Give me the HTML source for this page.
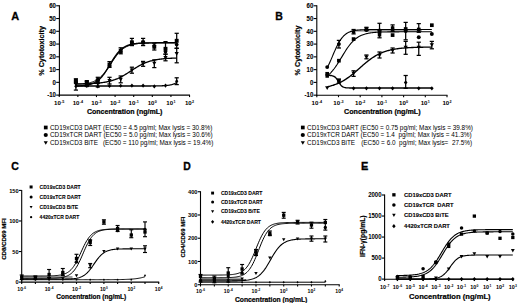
<!DOCTYPE html>
<html><head><meta charset="utf-8"><style>
html,body{margin:0;padding:0;background:#fff;overflow:hidden;}
svg{display:block;}
text{font-family:"Liberation Sans", sans-serif;fill:#000;white-space:pre;}

</style></head><body>
<svg width="520" height="303" viewBox="0 0 520 303">
<rect width="520" height="303" fill="#fff"/>
<text x="11.3" y="19.9" font-size="11.5" font-weight="bold" text-anchor="start" textLength="7.9" lengthAdjust="spacingAndGlyphs" stroke="#000" stroke-width="0.3" >A</text>
<line x1="59.4" y1="5.27" x2="59.4" y2="95.6" stroke="#000" stroke-width="1.1"/>
<line x1="56.2" y1="5.77" x2="59.4" y2="5.77" stroke="#000" stroke-width="1.1"/>
<text x="55.9" y="8" font-size="6.3" font-weight="bold" text-anchor="end" textLength="6.73" lengthAdjust="spacingAndGlyphs" stroke="#000" stroke-width="0.1" >60</text>
<line x1="56.2" y1="18.53" x2="59.4" y2="18.53" stroke="#000" stroke-width="1.1"/>
<text x="55.9" y="20.77" font-size="6.3" font-weight="bold" text-anchor="end" textLength="6.73" lengthAdjust="spacingAndGlyphs" stroke="#000" stroke-width="0.1" >50</text>
<line x1="56.2" y1="31.29" x2="59.4" y2="31.29" stroke="#000" stroke-width="1.1"/>
<text x="55.9" y="33.53" font-size="6.3" font-weight="bold" text-anchor="end" textLength="6.73" lengthAdjust="spacingAndGlyphs" stroke="#000" stroke-width="0.1" >40</text>
<line x1="56.2" y1="44.06" x2="59.4" y2="44.06" stroke="#000" stroke-width="1.1"/>
<text x="55.9" y="46.29" font-size="6.3" font-weight="bold" text-anchor="end" textLength="6.73" lengthAdjust="spacingAndGlyphs" stroke="#000" stroke-width="0.1" >30</text>
<line x1="56.2" y1="56.82" x2="59.4" y2="56.82" stroke="#000" stroke-width="1.1"/>
<text x="55.9" y="59.06" font-size="6.3" font-weight="bold" text-anchor="end" textLength="6.73" lengthAdjust="spacingAndGlyphs" stroke="#000" stroke-width="0.1" >20</text>
<line x1="56.2" y1="69.59" x2="59.4" y2="69.59" stroke="#000" stroke-width="1.1"/>
<text x="55.9" y="71.82" font-size="6.3" font-weight="bold" text-anchor="end" textLength="6.73" lengthAdjust="spacingAndGlyphs" stroke="#000" stroke-width="0.1" >10</text>
<line x1="56.2" y1="82.35" x2="59.4" y2="82.35" stroke="#000" stroke-width="1.1"/>
<text x="55.9" y="84.59" font-size="6.3" font-weight="bold" text-anchor="end" textLength="3.36" lengthAdjust="spacingAndGlyphs" stroke="#000" stroke-width="0.1" >0</text>
<line x1="56.2" y1="95.11" x2="59.4" y2="95.11" stroke="#000" stroke-width="1.1"/>
<text x="55.9" y="97.35" font-size="6.3" font-weight="bold" text-anchor="end" textLength="8.74" lengthAdjust="spacingAndGlyphs" stroke="#000" stroke-width="0.1" >-10</text>
<line x1="58.9" y1="95.1" x2="190.04" y2="95.1" stroke="#000" stroke-width="1.1"/>
<line x1="59.24" y1="95.1" x2="59.24" y2="97.1" stroke="#000" stroke-width="1.1"/>
<text x="54.05" y="104.5" font-size="6.1" font-weight="bold" text-anchor="start" textLength="6.78" lengthAdjust="spacingAndGlyphs" >10</text>
<text x="61.14" y="102.5" font-size="3.7" font-weight="bold" text-anchor="start" textLength="3.29" lengthAdjust="spacingAndGlyphs" >-5</text>
<line x1="77.86" y1="95.1" x2="77.86" y2="97.1" stroke="#000" stroke-width="1.1"/>
<text x="72.67" y="104.5" font-size="6.1" font-weight="bold" text-anchor="start" textLength="6.78" lengthAdjust="spacingAndGlyphs" >10</text>
<text x="79.75" y="102.5" font-size="3.7" font-weight="bold" text-anchor="start" textLength="3.29" lengthAdjust="spacingAndGlyphs" >-4</text>
<line x1="96.47" y1="95.1" x2="96.47" y2="97.1" stroke="#000" stroke-width="1.1"/>
<text x="91.28" y="104.5" font-size="6.1" font-weight="bold" text-anchor="start" textLength="6.78" lengthAdjust="spacingAndGlyphs" >10</text>
<text x="98.37" y="102.5" font-size="3.7" font-weight="bold" text-anchor="start" textLength="3.29" lengthAdjust="spacingAndGlyphs" >-3</text>
<line x1="115.09" y1="95.1" x2="115.09" y2="97.1" stroke="#000" stroke-width="1.1"/>
<text x="109.9" y="104.5" font-size="6.1" font-weight="bold" text-anchor="start" textLength="6.78" lengthAdjust="spacingAndGlyphs" >10</text>
<text x="116.98" y="102.5" font-size="3.7" font-weight="bold" text-anchor="start" textLength="3.29" lengthAdjust="spacingAndGlyphs" >-2</text>
<line x1="133.7" y1="95.1" x2="133.7" y2="97.1" stroke="#000" stroke-width="1.1"/>
<text x="128.51" y="104.5" font-size="6.1" font-weight="bold" text-anchor="start" textLength="6.78" lengthAdjust="spacingAndGlyphs" >10</text>
<text x="135.6" y="102.5" font-size="3.7" font-weight="bold" text-anchor="start" textLength="3.29" lengthAdjust="spacingAndGlyphs" >-1</text>
<line x1="152.31" y1="95.1" x2="152.31" y2="97.1" stroke="#000" stroke-width="1.1"/>
<text x="147.74" y="104.5" font-size="6.1" font-weight="bold" text-anchor="start" textLength="6.78" lengthAdjust="spacingAndGlyphs" >10</text>
<text x="154.83" y="102.5" font-size="3.7" font-weight="bold" text-anchor="start" textLength="2.06" lengthAdjust="spacingAndGlyphs" >0</text>
<line x1="170.93" y1="95.1" x2="170.93" y2="97.1" stroke="#000" stroke-width="1.1"/>
<text x="166.36" y="104.5" font-size="6.1" font-weight="bold" text-anchor="start" textLength="6.78" lengthAdjust="spacingAndGlyphs" >10</text>
<text x="173.44" y="102.5" font-size="3.7" font-weight="bold" text-anchor="start" textLength="2.06" lengthAdjust="spacingAndGlyphs" >1</text>
<line x1="189.54" y1="95.1" x2="189.54" y2="97.1" stroke="#000" stroke-width="1.1"/>
<text x="184.97" y="104.5" font-size="6.1" font-weight="bold" text-anchor="start" textLength="6.78" lengthAdjust="spacingAndGlyphs" >10</text>
<text x="192.06" y="102.5" font-size="3.7" font-weight="bold" text-anchor="start" textLength="2.06" lengthAdjust="spacingAndGlyphs" >2</text>
<text x="124.65" y="113.9" font-size="7.1" font-weight="bold" text-anchor="middle" textLength="75.4" lengthAdjust="spacingAndGlyphs" stroke="#000" stroke-width="0.22" >Concentration (ng/mL)</text>
<text transform="translate(44.4,50.9) rotate(-90)" x="0" y="0" font-size="7.2" font-weight="bold" text-anchor="middle" textLength="49.8" lengthAdjust="spacingAndGlyphs" stroke="#000" stroke-width="0.2">% Cytotoxicity</text>
<rect x="43.89" y="125.64" width="3.72" height="3.72" fill="#000"/>
<text x="50" y="129.7" font-size="6.4" font-weight="normal" text-anchor="start" textLength="162.31" lengthAdjust="spacingAndGlyphs" >CD19xCD3 DART (EC50 = 4.5 pg/ml; Max lysis = 30.8%)</text>
<circle cx="45.75" cy="135" r="2.09" fill="#000"/>
<text x="50" y="137.2" font-size="6.4" font-weight="normal" text-anchor="start" textLength="162.66" lengthAdjust="spacingAndGlyphs" >CD19xTCR DART (EC50 = 5.0 pg/ml; Max lysis = 30.6%)</text>
<path d="M43.67 141.26H47.83L45.75 144.87Z" fill="#000"/>
<text x="50" y="144.8" font-size="6.4" font-weight="normal" text-anchor="start" textLength="48.01" lengthAdjust="spacingAndGlyphs" >CD19xCD3 BiTE</text>
<text x="102.91" y="144.8" font-size="6.4" font-weight="normal" text-anchor="start" textLength="110.5" lengthAdjust="spacingAndGlyphs" >(EC50 = 110 pg/ml; Max lysis = 19.4%)</text>
<polyline points="75.9,83.89 76.62,83.89 77.34,83.88 78.06,83.87 78.78,83.86 79.5,83.85 80.22,83.84 80.94,83.83 81.66,83.81 82.38,83.8 83.1,83.78 83.82,83.77 84.54,83.75 85.26,83.73 85.98,83.71 86.7,83.69 87.42,83.67 88.14,83.64 88.86,83.62 89.58,83.59 90.3,83.56 91.02,83.53 91.74,83.49 92.46,83.46 93.18,83.42 93.9,83.37 94.62,83.33 95.34,83.28 96.06,83.23 96.78,83.17 97.5,83.11 98.22,83.05 98.94,82.98 99.66,82.91 100.38,82.83 101.1,82.75 101.82,82.66 102.54,82.56 103.26,82.46 103.98,82.35 104.7,82.24 105.42,82.12 106.14,81.99 106.86,81.85 107.58,81.7 108.3,81.55 109.02,81.38 109.74,81.21 110.46,81.02 111.18,80.83 111.9,80.62 112.62,80.4 113.34,80.17 114.06,79.93 114.78,79.68 115.5,79.41 116.22,79.13 116.94,78.84 117.66,78.54 118.38,78.22 119.1,77.89 119.82,77.54 120.54,77.19 121.26,76.82 121.98,76.44 122.7,76.04 123.42,75.64 124.14,75.23 124.86,74.8 125.58,74.37 126.3,73.92 127.02,73.47 127.74,73.02 128.46,72.55 129.18,72.09 129.9,71.62 130.62,71.15 131.34,70.68 132.06,70.21 132.78,69.74 133.5,69.27 134.22,68.81 134.94,68.35 135.66,67.9 136.38,67.46 137.1,67.02 137.82,66.6 138.54,66.18 139.26,65.78 139.98,65.38 140.7,65 141.42,64.63 142.14,64.27 142.86,63.93 143.58,63.6 144.3,63.28 145.02,62.97 145.74,62.68 146.46,62.4 147.18,62.14 147.9,61.88 148.62,61.64 149.34,61.41 150.06,61.19 150.78,60.98 151.5,60.79 152.22,60.6 152.94,60.43 153.66,60.26 154.38,60.11 155.1,59.96 155.82,59.82 156.54,59.69 157.26,59.57 157.98,59.45 158.7,59.34 159.42,59.24 160.14,59.15 160.86,59.06 161.58,58.98 162.3,58.9 163.02,58.82 163.74,58.76 164.46,58.69 165.18,58.63 165.9,58.58 166.62,58.52 167.34,58.47 168.06,58.43 168.78,58.39 169.5,58.35 170.22,58.31 170.94,58.27 171.66,58.24 172.38,58.21 173.1,58.18 173.82,58.16 174.54,58.13 175.26,58.11 175.98,58.09 176.7,58.07" fill="none" stroke="#000" stroke-width="1.3" stroke-linejoin="round"/>
<polyline points="75.9,86 76.62,86 77.34,86 78.06,86 78.78,86 79.5,86 80.22,86 80.94,86 81.66,86 82.38,86 83.1,86 83.82,86 84.54,86 85.26,86 85.98,86 86.7,86 87.42,86 88.14,86 88.86,86 89.58,86 90.3,86 91.02,86 91.74,86 92.46,86 93.18,86 93.9,86 94.62,86 95.34,86 96.06,86 96.78,86 97.5,86 98.22,86 98.94,86 99.66,86 100.38,86 101.1,86 101.82,86 102.54,86 103.26,86 103.98,86 104.7,86 105.42,86 106.14,86 106.86,86 107.58,86 108.3,86 109.02,86 109.74,86 110.46,86 111.18,86 111.9,86 112.62,86 113.34,86 114.06,86 114.78,86 115.5,86 116.22,86 116.94,86 117.66,86 118.38,86 119.1,86 119.82,86 120.54,86 121.26,86 121.98,86 122.7,86 123.42,86 124.14,86 124.86,86 125.58,86 126.3,86 127.02,86 127.74,86 128.46,86 129.18,86 129.9,86 130.62,86 131.34,86 132.06,86 132.78,86 133.5,86 134.22,86 134.94,86 135.66,86 136.38,86 137.1,86 137.82,86 138.54,86 139.26,86 139.98,86 140.7,86 141.42,86 142.14,86 142.86,86 143.58,85.99 144.3,85.99 145.02,85.99 145.74,85.99 146.46,85.99 147.18,85.99 147.9,85.99 148.62,85.99 149.34,85.98 150.06,85.98 150.78,85.98 151.5,85.97 152.22,85.97 152.94,85.97 153.66,85.96 154.38,85.95 155.1,85.95 155.82,85.94 156.54,85.93 157.26,85.92 157.98,85.9 158.7,85.89 159.42,85.87 160.14,85.85 160.86,85.83 161.58,85.8 162.3,85.77 163.02,85.74 163.74,85.7 164.46,85.65 165.18,85.6 165.9,85.54 166.62,85.47 167.34,85.39 168.06,85.3 168.78,85.2 169.5,85.08 170.22,84.94 170.94,84.78 171.66,84.6 172.38,84.4 173.1,84.17 173.82,83.91 174.54,83.61 175.26,83.28 175.98,82.91 176.7,82.5" fill="none" stroke="#000" stroke-width="1.3" stroke-linejoin="round"/>
<polyline points="75.9,84.26 76.62,84.24 77.34,84.21 78.06,84.17 78.78,84.14 79.5,84.1 80.22,84.05 80.94,84 81.66,83.95 82.38,83.89 83.1,83.82 83.82,83.75 84.54,83.67 85.26,83.57 85.98,83.47 86.7,83.36 87.42,83.24 88.14,83.1 88.86,82.95 89.58,82.79 90.3,82.6 91.02,82.4 91.74,82.18 92.46,81.94 93.18,81.67 93.9,81.38 94.62,81.06 95.34,80.71 96.06,80.33 96.78,79.91 97.5,79.46 98.22,78.98 98.94,78.45 99.66,77.88 100.38,77.27 101.1,76.61 101.82,75.92 102.54,75.17 103.26,74.38 103.98,73.55 104.7,72.67 105.42,71.75 106.14,70.8 106.86,69.81 107.58,68.79 108.3,67.74 109.02,66.66 109.74,65.58 110.46,64.48 111.18,63.37 111.9,62.27 112.62,61.18 113.34,60.1 114.06,59.04 114.78,58 115.5,56.99 116.22,56.02 116.94,55.08 117.66,54.18 118.38,53.33 119.1,52.52 119.82,51.75 120.54,51.03 121.26,50.35 121.98,49.72 122.7,49.13 123.42,48.58 124.14,48.07 124.86,47.61 125.58,47.17 126.3,46.78 127.02,46.41 127.74,46.08 128.46,45.77 129.18,45.49 129.9,45.24 130.62,45.01 131.34,44.79 132.06,44.6 132.78,44.43 133.5,44.27 134.22,44.13 134.94,44 135.66,43.88 136.38,43.77 137.1,43.68 137.82,43.59 138.54,43.51 139.26,43.44 139.98,43.38 140.7,43.32 141.42,43.27 142.14,43.22 142.86,43.18 143.58,43.14 144.3,43.11 145.02,43.08 145.74,43.05 146.46,43.03 147.18,43 147.9,42.98 148.62,42.96 149.34,42.95 150.06,42.93 150.78,42.92 151.5,42.91 152.22,42.9 152.94,42.89 153.66,42.88 154.38,42.87 155.1,42.86 155.82,42.86 156.54,42.85 157.26,42.85 157.98,42.84 158.7,42.84 159.42,42.83 160.14,42.83 160.86,42.83 161.58,42.82 162.3,42.82 163.02,42.82 163.74,42.82 164.46,42.82 165.18,42.81 165.9,42.81 166.62,42.81 167.34,42.81 168.06,42.81 168.78,42.81 169.5,42.81 170.22,42.81 170.94,42.81 171.66,42.81 172.38,42.81 173.1,42.8 173.82,42.8 174.54,42.8 175.26,42.8 175.98,42.8 176.7,42.8" fill="none" stroke="#000" stroke-width="1" stroke-linejoin="round"/>
<polyline points="75.9,86.07 76.62,86.05 77.34,86.02 78.06,85.98 78.78,85.95 79.5,85.9 80.22,85.86 80.94,85.81 81.66,85.75 82.38,85.69 83.1,85.62 83.82,85.54 84.54,85.45 85.26,85.35 85.98,85.25 86.7,85.13 87.42,84.99 88.14,84.84 88.86,84.68 89.58,84.5 90.3,84.3 91.02,84.07 91.74,83.83 92.46,83.56 93.18,83.26 93.9,82.93 94.62,82.57 95.34,82.17 96.06,81.74 96.78,81.27 97.5,80.75 98.22,80.19 98.94,79.59 99.66,78.94 100.38,78.23 101.1,77.48 101.82,76.68 102.54,75.82 103.26,74.91 103.98,73.96 104.7,72.96 105.42,71.91 106.14,70.82 106.86,69.7 107.58,68.55 108.3,67.38 109.02,66.19 109.74,64.98 110.46,63.78 111.18,62.58 111.9,61.39 112.62,60.22 113.34,59.08 114.06,57.97 114.78,56.89 115.5,55.86 116.22,54.87 116.94,53.93 117.66,53.04 118.38,52.2 119.1,51.41 119.82,50.67 120.54,49.98 121.26,49.34 121.98,48.75 122.7,48.2 123.42,47.7 124.14,47.24 124.86,46.81 125.58,46.43 126.3,46.08 127.02,45.76 127.74,45.47 128.46,45.2 129.18,44.96 129.9,44.75 130.62,44.55 131.34,44.37 132.06,44.21 132.78,44.07 133.5,43.94 134.22,43.82 134.94,43.72 135.66,43.62 136.38,43.54 137.1,43.46 137.82,43.39 138.54,43.33 139.26,43.28 139.98,43.23 140.7,43.18 141.42,43.14 142.14,43.11 142.86,43.08 143.58,43.05 144.3,43.02 145.02,43 145.74,42.98 146.46,42.96 147.18,42.94 147.9,42.93 148.62,42.91 149.34,42.9 150.06,42.89 150.78,42.88 151.5,42.87 152.22,42.87 152.94,42.86 153.66,42.85 154.38,42.85 155.1,42.84 155.82,42.84 156.54,42.83 157.26,42.83 157.98,42.83 158.7,42.82 159.42,42.82 160.14,42.82 160.86,42.82 161.58,42.82 162.3,42.81 163.02,42.81 163.74,42.81 164.46,42.81 165.18,42.81 165.9,42.81 166.62,42.81 167.34,42.81 168.06,42.81 168.78,42.81 169.5,42.8 170.22,42.8 170.94,42.8 171.66,42.8 172.38,42.8 173.1,42.8 173.82,42.8 174.54,42.8 175.26,42.8 175.98,42.8 176.7,42.8" fill="none" stroke="#000" stroke-width="1.45" stroke-linejoin="round"/>
<line x1="75.9" y1="81" x2="75.9" y2="90.1" stroke="#000" stroke-width="1.25"/>
<line x1="73.8" y1="81" x2="78" y2="81" stroke="#000" stroke-width="1.25"/>
<line x1="73.8" y1="90.1" x2="78" y2="90.1" stroke="#000" stroke-width="1.25"/>
<path d="M73.77 82.63H78.03L75.9 86.33Z" fill="#000"/>
<line x1="86.8" y1="81.5" x2="86.8" y2="86.5" stroke="#000" stroke-width="1.25"/>
<line x1="84.7" y1="81.5" x2="88.9" y2="81.5" stroke="#000" stroke-width="1.25"/>
<line x1="84.7" y1="86.5" x2="88.9" y2="86.5" stroke="#000" stroke-width="1.25"/>
<path d="M84.67 82.23H88.93L86.8 85.93Z" fill="#000"/>
<line x1="97.8" y1="80" x2="97.8" y2="87" stroke="#000" stroke-width="1.25"/>
<line x1="95.7" y1="80" x2="99.9" y2="80" stroke="#000" stroke-width="1.25"/>
<line x1="95.7" y1="87" x2="99.9" y2="87" stroke="#000" stroke-width="1.25"/>
<path d="M95.67 81.93H99.93L97.8 85.63Z" fill="#000"/>
<line x1="109.5" y1="77.3" x2="109.5" y2="84" stroke="#000" stroke-width="1.25"/>
<line x1="107.4" y1="77.3" x2="111.6" y2="77.3" stroke="#000" stroke-width="1.25"/>
<line x1="107.4" y1="84" x2="111.6" y2="84" stroke="#000" stroke-width="1.25"/>
<path d="M107.37 79.03H111.63L109.5 82.73Z" fill="#000"/>
<line x1="120.7" y1="76" x2="120.7" y2="82.8" stroke="#000" stroke-width="1.25"/>
<line x1="118.6" y1="76" x2="122.8" y2="76" stroke="#000" stroke-width="1.25"/>
<line x1="118.6" y1="82.8" x2="122.8" y2="82.8" stroke="#000" stroke-width="1.25"/>
<path d="M118.57 77.83H122.83L120.7 81.53Z" fill="#000"/>
<line x1="131.9" y1="67.2" x2="131.9" y2="73.2" stroke="#000" stroke-width="1.25"/>
<line x1="129.8" y1="67.2" x2="134" y2="67.2" stroke="#000" stroke-width="1.25"/>
<line x1="129.8" y1="73.2" x2="134" y2="73.2" stroke="#000" stroke-width="1.25"/>
<path d="M129.77 68.43H134.03L131.9 72.13Z" fill="#000"/>
<line x1="143.1" y1="61.4" x2="143.1" y2="66.3" stroke="#000" stroke-width="1.25"/>
<line x1="141" y1="61.4" x2="145.2" y2="61.4" stroke="#000" stroke-width="1.25"/>
<line x1="141" y1="66.3" x2="145.2" y2="66.3" stroke="#000" stroke-width="1.25"/>
<path d="M140.97 62.23H145.23L143.1 65.93Z" fill="#000"/>
<line x1="154.3" y1="59.9" x2="154.3" y2="67.6" stroke="#000" stroke-width="1.25"/>
<line x1="152.2" y1="59.9" x2="156.4" y2="59.9" stroke="#000" stroke-width="1.25"/>
<line x1="152.2" y1="67.6" x2="156.4" y2="67.6" stroke="#000" stroke-width="1.25"/>
<path d="M152.17 61.63H156.43L154.3 65.33Z" fill="#000"/>
<line x1="165.5" y1="54.2" x2="165.5" y2="60.8" stroke="#000" stroke-width="1.25"/>
<line x1="163.4" y1="54.2" x2="167.6" y2="54.2" stroke="#000" stroke-width="1.25"/>
<line x1="163.4" y1="60.8" x2="167.6" y2="60.8" stroke="#000" stroke-width="1.25"/>
<path d="M163.37 56.03H167.63L165.5 59.73Z" fill="#000"/>
<line x1="176.7" y1="48.3" x2="176.7" y2="62.8" stroke="#000" stroke-width="1.25"/>
<line x1="174.6" y1="48.3" x2="178.8" y2="48.3" stroke="#000" stroke-width="1.25"/>
<line x1="174.6" y1="62.8" x2="178.8" y2="62.8" stroke="#000" stroke-width="1.25"/>
<path d="M174.57 52.03H178.83L176.7 55.73Z" fill="#000"/>
<line x1="75.9" y1="78.8" x2="75.9" y2="83" stroke="#000" stroke-width="1.25"/>
<line x1="73.8" y1="78.8" x2="78" y2="78.8" stroke="#000" stroke-width="1.25"/>
<line x1="73.8" y1="83" x2="78" y2="83" stroke="#000" stroke-width="1.25"/>
<rect x="73.95" y="78.85" width="3.9" height="3.9" fill="#000"/>
<line x1="86.8" y1="80.6" x2="86.8" y2="85.5" stroke="#000" stroke-width="1.25"/>
<line x1="84.7" y1="80.6" x2="88.9" y2="80.6" stroke="#000" stroke-width="1.25"/>
<line x1="84.7" y1="85.5" x2="88.9" y2="85.5" stroke="#000" stroke-width="1.25"/>
<rect x="84.85" y="81.35" width="3.9" height="3.9" fill="#000"/>
<line x1="97.8" y1="77.3" x2="97.8" y2="83.5" stroke="#000" stroke-width="1.25"/>
<line x1="95.7" y1="77.3" x2="99.9" y2="77.3" stroke="#000" stroke-width="1.25"/>
<line x1="95.7" y1="83.5" x2="99.9" y2="83.5" stroke="#000" stroke-width="1.25"/>
<rect x="95.85" y="78.55" width="3.9" height="3.9" fill="#000"/>
<line x1="109.5" y1="61.6" x2="109.5" y2="67.4" stroke="#000" stroke-width="1.25"/>
<line x1="107.4" y1="61.6" x2="111.6" y2="61.6" stroke="#000" stroke-width="1.25"/>
<line x1="107.4" y1="67.4" x2="111.6" y2="67.4" stroke="#000" stroke-width="1.25"/>
<rect x="107.55" y="62.65" width="3.9" height="3.9" fill="#000"/>
<line x1="120.7" y1="47.8" x2="120.7" y2="53.8" stroke="#000" stroke-width="1.25"/>
<line x1="118.6" y1="47.8" x2="122.8" y2="47.8" stroke="#000" stroke-width="1.25"/>
<line x1="118.6" y1="53.8" x2="122.8" y2="53.8" stroke="#000" stroke-width="1.25"/>
<rect x="118.75" y="48.85" width="3.9" height="3.9" fill="#000"/>
<line x1="131.9" y1="38.4" x2="131.9" y2="45.6" stroke="#000" stroke-width="1.25"/>
<line x1="129.8" y1="38.4" x2="134" y2="38.4" stroke="#000" stroke-width="1.25"/>
<line x1="129.8" y1="45.6" x2="134" y2="45.6" stroke="#000" stroke-width="1.25"/>
<rect x="129.95" y="40.35" width="3.9" height="3.9" fill="#000"/>
<line x1="143.1" y1="38.4" x2="143.1" y2="45.6" stroke="#000" stroke-width="1.25"/>
<line x1="141" y1="38.4" x2="145.2" y2="38.4" stroke="#000" stroke-width="1.25"/>
<line x1="141" y1="45.6" x2="145.2" y2="45.6" stroke="#000" stroke-width="1.25"/>
<rect x="141.15" y="40.55" width="3.9" height="3.9" fill="#000"/>
<line x1="154.3" y1="43.2" x2="154.3" y2="50" stroke="#000" stroke-width="1.25"/>
<line x1="152.2" y1="43.2" x2="156.4" y2="43.2" stroke="#000" stroke-width="1.25"/>
<line x1="152.2" y1="50" x2="156.4" y2="50" stroke="#000" stroke-width="1.25"/>
<rect x="152.35" y="44.85" width="3.9" height="3.9" fill="#000"/>
<line x1="165.5" y1="41.6" x2="165.5" y2="54.2" stroke="#000" stroke-width="1.25"/>
<line x1="163.4" y1="41.6" x2="167.6" y2="41.6" stroke="#000" stroke-width="1.25"/>
<line x1="163.4" y1="54.2" x2="167.6" y2="54.2" stroke="#000" stroke-width="1.25"/>
<rect x="163.55" y="46.85" width="3.9" height="3.9" fill="#000"/>
<line x1="176.7" y1="33.3" x2="176.7" y2="48.3" stroke="#000" stroke-width="1.25"/>
<line x1="174.6" y1="33.3" x2="178.8" y2="33.3" stroke="#000" stroke-width="1.25"/>
<line x1="174.6" y1="48.3" x2="178.8" y2="48.3" stroke="#000" stroke-width="1.25"/>
<rect x="174.75" y="38.85" width="3.9" height="3.9" fill="#000"/>
<path d="M75.9 84.16L77.6 86.2L75.9 88.24L74.2 86.2Z" fill="#000"/>
<path d="M86.8 83.96L88.5 86L86.8 88.04L85.1 86Z" fill="#000"/>
<path d="M97.8 84.46L99.5 86.5L97.8 88.54L96.1 86.5Z" fill="#000"/>
<path d="M109.5 83.96L111.2 86L109.5 88.04L107.8 86Z" fill="#000"/>
<path d="M120.7 83.66L122.4 85.7L120.7 87.74L119 85.7Z" fill="#000"/>
<path d="M131.9 83.56L133.6 85.6L131.9 87.64L130.2 85.6Z" fill="#000"/>
<path d="M143.1 83.56L144.8 85.6L143.1 87.64L141.4 85.6Z" fill="#000"/>
<path d="M154.3 84.36L156 86.4L154.3 88.44L152.6 86.4Z" fill="#000"/>
<path d="M165.5 83.56L167.2 85.6L165.5 87.64L163.8 85.6Z" fill="#000"/>
<line x1="176.7" y1="77.8" x2="176.7" y2="84.6" stroke="#000" stroke-width="1.25"/>
<line x1="174.6" y1="77.8" x2="178.8" y2="77.8" stroke="#000" stroke-width="1.25"/>
<line x1="174.6" y1="84.6" x2="178.8" y2="84.6" stroke="#000" stroke-width="1.25"/>
<path d="M176.7 79.16L178.4 81.2L176.7 83.24L175 81.2Z" fill="#000"/>
<circle cx="75.9" cy="82.5" r="1.85" fill="#000"/>
<circle cx="86.8" cy="84.8" r="1.85" fill="#000"/>
<circle cx="97.8" cy="79.5" r="1.85" fill="#000"/>
<circle cx="109.5" cy="66" r="1.85" fill="#000"/>
<circle cx="120.7" cy="52" r="1.85" fill="#000"/>
<circle cx="131.9" cy="42.8" r="1.85" fill="#000"/>
<circle cx="143.1" cy="42" r="1.85" fill="#000"/>
<circle cx="154.3" cy="45.8" r="1.85" fill="#000"/>
<circle cx="165.5" cy="51.5" r="1.85" fill="#000"/>
<circle cx="176.7" cy="44.5" r="1.85" fill="#000"/>
<text x="275.3" y="19.9" font-size="11.5" font-weight="bold" text-anchor="start" textLength="7.6" lengthAdjust="spacingAndGlyphs" stroke="#000" stroke-width="0.3" >B</text>
<line x1="316.8" y1="5.28" x2="316.8" y2="95.7" stroke="#000" stroke-width="1.1"/>
<line x1="313.6" y1="5.78" x2="316.8" y2="5.78" stroke="#000" stroke-width="1.1"/>
<text x="313.3" y="8.02" font-size="6.3" font-weight="bold" text-anchor="end" textLength="6.73" lengthAdjust="spacingAndGlyphs" stroke="#000" stroke-width="0.1" >60</text>
<line x1="313.6" y1="18.55" x2="316.8" y2="18.55" stroke="#000" stroke-width="1.1"/>
<text x="313.3" y="20.79" font-size="6.3" font-weight="bold" text-anchor="end" textLength="6.73" lengthAdjust="spacingAndGlyphs" stroke="#000" stroke-width="0.1" >50</text>
<line x1="313.6" y1="31.32" x2="316.8" y2="31.32" stroke="#000" stroke-width="1.1"/>
<text x="313.3" y="33.56" font-size="6.3" font-weight="bold" text-anchor="end" textLength="6.73" lengthAdjust="spacingAndGlyphs" stroke="#000" stroke-width="0.1" >40</text>
<line x1="313.6" y1="44.09" x2="316.8" y2="44.09" stroke="#000" stroke-width="1.1"/>
<text x="313.3" y="46.33" font-size="6.3" font-weight="bold" text-anchor="end" textLength="6.73" lengthAdjust="spacingAndGlyphs" stroke="#000" stroke-width="0.1" >30</text>
<line x1="313.6" y1="56.86" x2="316.8" y2="56.86" stroke="#000" stroke-width="1.1"/>
<text x="313.3" y="59.1" font-size="6.3" font-weight="bold" text-anchor="end" textLength="6.73" lengthAdjust="spacingAndGlyphs" stroke="#000" stroke-width="0.1" >20</text>
<line x1="313.6" y1="69.63" x2="316.8" y2="69.63" stroke="#000" stroke-width="1.1"/>
<text x="313.3" y="71.87" font-size="6.3" font-weight="bold" text-anchor="end" textLength="6.73" lengthAdjust="spacingAndGlyphs" stroke="#000" stroke-width="0.1" >10</text>
<line x1="313.6" y1="82.4" x2="316.8" y2="82.4" stroke="#000" stroke-width="1.1"/>
<text x="313.3" y="84.64" font-size="6.3" font-weight="bold" text-anchor="end" textLength="3.36" lengthAdjust="spacingAndGlyphs" stroke="#000" stroke-width="0.1" >0</text>
<line x1="313.6" y1="95.17" x2="316.8" y2="95.17" stroke="#000" stroke-width="1.1"/>
<text x="313.3" y="97.41" font-size="6.3" font-weight="bold" text-anchor="end" textLength="8.74" lengthAdjust="spacingAndGlyphs" stroke="#000" stroke-width="0.1" >-10</text>
<line x1="316.3" y1="95.2" x2="447.5" y2="95.2" stroke="#000" stroke-width="1.1"/>
<line x1="316.8" y1="95.2" x2="316.8" y2="97.2" stroke="#000" stroke-width="1.1"/>
<text x="311.61" y="104.5" font-size="6.1" font-weight="bold" text-anchor="start" textLength="6.78" lengthAdjust="spacingAndGlyphs" >10</text>
<text x="318.7" y="102.5" font-size="3.7" font-weight="bold" text-anchor="start" textLength="3.29" lengthAdjust="spacingAndGlyphs" >-4</text>
<line x1="338.5" y1="95.2" x2="338.5" y2="97.2" stroke="#000" stroke-width="1.1"/>
<text x="333.31" y="104.5" font-size="6.1" font-weight="bold" text-anchor="start" textLength="6.78" lengthAdjust="spacingAndGlyphs" >10</text>
<text x="340.4" y="102.5" font-size="3.7" font-weight="bold" text-anchor="start" textLength="3.29" lengthAdjust="spacingAndGlyphs" >-3</text>
<line x1="360.2" y1="95.2" x2="360.2" y2="97.2" stroke="#000" stroke-width="1.1"/>
<text x="355.01" y="104.5" font-size="6.1" font-weight="bold" text-anchor="start" textLength="6.78" lengthAdjust="spacingAndGlyphs" >10</text>
<text x="362.1" y="102.5" font-size="3.7" font-weight="bold" text-anchor="start" textLength="3.29" lengthAdjust="spacingAndGlyphs" >-2</text>
<line x1="381.9" y1="95.2" x2="381.9" y2="97.2" stroke="#000" stroke-width="1.1"/>
<text x="376.71" y="104.5" font-size="6.1" font-weight="bold" text-anchor="start" textLength="6.78" lengthAdjust="spacingAndGlyphs" >10</text>
<text x="383.8" y="102.5" font-size="3.7" font-weight="bold" text-anchor="start" textLength="3.29" lengthAdjust="spacingAndGlyphs" >-1</text>
<line x1="403.6" y1="95.2" x2="403.6" y2="97.2" stroke="#000" stroke-width="1.1"/>
<text x="399.03" y="104.5" font-size="6.1" font-weight="bold" text-anchor="start" textLength="6.78" lengthAdjust="spacingAndGlyphs" >10</text>
<text x="406.11" y="102.5" font-size="3.7" font-weight="bold" text-anchor="start" textLength="2.06" lengthAdjust="spacingAndGlyphs" >0</text>
<line x1="425.3" y1="95.2" x2="425.3" y2="97.2" stroke="#000" stroke-width="1.1"/>
<text x="420.73" y="104.5" font-size="6.1" font-weight="bold" text-anchor="start" textLength="6.78" lengthAdjust="spacingAndGlyphs" >10</text>
<text x="427.81" y="102.5" font-size="3.7" font-weight="bold" text-anchor="start" textLength="2.06" lengthAdjust="spacingAndGlyphs" >1</text>
<line x1="447" y1="95.2" x2="447" y2="97.2" stroke="#000" stroke-width="1.1"/>
<text x="442.43" y="104.5" font-size="6.1" font-weight="bold" text-anchor="start" textLength="6.78" lengthAdjust="spacingAndGlyphs" >10</text>
<text x="449.51" y="102.5" font-size="3.7" font-weight="bold" text-anchor="start" textLength="2.06" lengthAdjust="spacingAndGlyphs" >2</text>
<text x="382.3" y="113.9" font-size="7.1" font-weight="bold" text-anchor="middle" textLength="76.5" lengthAdjust="spacingAndGlyphs" stroke="#000" stroke-width="0.22" >Concentration (ng/mL)</text>
<text transform="translate(300.3,50.5) rotate(-90)" x="0" y="0" font-size="7.2" font-weight="bold" text-anchor="middle" textLength="49.8" lengthAdjust="spacingAndGlyphs" stroke="#000" stroke-width="0.2">% Cytotoxicity</text>
<rect x="300.94" y="125.64" width="3.72" height="3.72" fill="#000"/>
<text x="307.1" y="129.7" font-size="6.4" font-weight="normal" text-anchor="start" textLength="165.87" lengthAdjust="spacingAndGlyphs" >CD19xCD3 DART (EC50 = 0.75 pg/ml; Max lysis = 39.8%)</text>
<circle cx="302.8" cy="135" r="2.09" fill="#000"/>
<text x="307.1" y="137.2" font-size="6.4" font-weight="normal" text-anchor="start" textLength="164.44" lengthAdjust="spacingAndGlyphs" >CD19xTCR DART (EC50 = 1.4  pg/ml; Max lysis = 41.3%)</text>
<path d="M300.72 141.26H304.88L302.8 144.87Z" fill="#000"/>
<text x="307.1" y="144.8" font-size="6.4" font-weight="normal" text-anchor="start" textLength="48.01" lengthAdjust="spacingAndGlyphs" >CD19xCD3 BiTE</text>
<text x="361.21" y="144.8" font-size="6.4" font-weight="normal" text-anchor="start" textLength="110.97" lengthAdjust="spacingAndGlyphs" >(EC50 = 6.0  pg/ml; Max lysis=  27.5%)</text>
<rect x="356" y="29.8" width="65.84" height="1.9" fill="#a0a0a0"/>
<polyline points="327.2,67.8 327.95,66.35 328.69,64.82 329.44,63.22 330.19,61.56 330.94,59.85 331.68,58.11 332.43,56.35 333.18,54.58 333.93,52.83 334.67,51.11 335.42,49.42 336.17,47.8 336.92,46.23 337.66,44.74 338.41,43.34 339.16,42.02 339.91,40.79 340.65,39.65 341.4,38.6 342.15,37.64 342.9,36.76 343.64,35.96 344.39,35.24 345.14,34.59 345.89,34.01 346.63,33.49 347.38,33.03 348.13,32.61 348.88,32.24 349.62,31.92 350.37,31.63 351.12,31.37 351.87,31.14 352.61,30.94 353.36,30.77 354.11,30.61 354.85,30.48 355.6,30.36 356.35,30.25 357.1,30.16 357.84,30.08 358.59,30.01 359.34,29.94 360.09,29.89 360.83,29.84 361.58,29.8 362.33,29.76 363.08,29.73 363.82,29.7 364.57,29.67 365.32,29.65 366.07,29.63 366.81,29.62 367.56,29.6 368.31,29.59 369.06,29.58 369.8,29.57 370.55,29.56 371.3,29.55 372.05,29.55 372.79,29.54 373.54,29.54 374.29,29.53 375.04,29.53 375.78,29.52 376.53,29.52 377.28,29.52 378.03,29.52 378.77,29.51 379.52,29.51 380.27,29.51 381.01,29.51 381.76,29.51 382.51,29.51 383.26,29.51 384,29.51 384.75,29.5 385.5,29.5 386.25,29.5 386.99,29.5 387.74,29.5 388.49,29.5 389.24,29.5 389.98,29.5 390.73,29.5 391.48,29.5 392.23,29.5 392.97,29.5 393.72,29.5 394.47,29.5 395.22,29.5 395.96,29.5 396.71,29.5 397.46,29.5 398.21,29.5 398.95,29.5 399.7,29.5 400.45,29.5 401.2,29.5 401.94,29.5 402.69,29.5 403.44,29.5 404.19,29.5 404.93,29.5 405.68,29.5 406.43,29.5 407.17,29.5 407.92,29.5 408.67,29.5 409.42,29.5 410.16,29.5 410.91,29.5 411.66,29.5 412.41,29.5 413.15,29.5 413.9,29.5 414.65,29.5 415.4,29.5 416.14,29.5 416.89,29.5 417.64,29.5 418.39,29.5 419.13,29.5 419.88,29.5 420.63,29.5 421.38,29.5 422.12,29.5 422.87,29.5 423.62,29.5 424.37,29.5 425.11,29.5 425.86,29.5 426.61,29.5 427.36,29.5 428.1,29.5 428.85,29.5 429.6,29.5 430.35,29.5 431.09,29.5 431.84,29.5" fill="none" stroke="#000" stroke-width="1.1" stroke-linejoin="round"/>
<polyline points="327.2,75.86 327.95,75.28 328.69,74.66 329.44,73.99 330.19,73.28 330.94,72.52 331.68,71.71 332.43,70.86 333.18,69.96 333.93,69.02 334.67,68.03 335.42,66.99 336.17,65.92 336.92,64.81 337.66,63.66 338.41,62.49 339.16,61.29 339.91,60.07 340.65,58.84 341.4,57.6 342.15,56.35 342.9,55.11 343.64,53.88 344.39,52.67 345.14,51.47 345.89,50.3 346.63,49.17 347.38,48.06 348.13,47 348.88,45.97 349.62,44.99 350.37,44.05 351.12,43.16 351.87,42.32 352.61,41.52 353.36,40.78 354.11,40.07 354.85,39.41 355.6,38.8 356.35,38.23 357.1,37.7 357.84,37.2 358.59,36.75 359.34,36.32 360.09,35.93 360.83,35.58 361.58,35.25 362.33,34.94 363.08,34.67 363.82,34.41 364.57,34.18 365.32,33.97 366.07,33.77 366.81,33.59 367.56,33.43 368.31,33.28 369.06,33.15 369.8,33.02 370.55,32.91 371.3,32.81 372.05,32.72 372.79,32.63 373.54,32.56 374.29,32.49 375.04,32.42 375.78,32.36 376.53,32.31 377.28,32.26 378.03,32.22 378.77,32.18 379.52,32.15 380.27,32.11 381.01,32.09 381.76,32.06 382.51,32.03 383.26,32.01 384,31.99 384.75,31.97 385.5,31.96 386.25,31.94 386.99,31.93 387.74,31.92 388.49,31.91 389.24,31.9 389.98,31.89 390.73,31.88 391.48,31.87 392.23,31.87 392.97,31.86 393.72,31.85 394.47,31.85 395.22,31.84 395.96,31.84 396.71,31.84 397.46,31.83 398.21,31.83 398.95,31.83 399.7,31.82 400.45,31.82 401.2,31.82 401.94,31.82 402.69,31.82 403.44,31.81 404.19,31.81 404.93,31.81 405.68,31.81 406.43,31.81 407.17,31.81 407.92,31.81 408.67,31.81 409.42,31.81 410.16,31.81 410.91,31.81 411.66,31.81 412.41,31.8 413.15,31.8 413.9,31.8 414.65,31.8 415.4,31.8 416.14,31.8 416.89,31.8 417.64,31.8 418.39,31.8 419.13,31.8 419.88,31.8 420.63,31.8 421.38,31.8 422.12,31.8 422.87,31.8 423.62,31.8 424.37,31.8 425.11,31.8 425.86,31.8 426.61,31.8 427.36,31.8 428.1,31.8 428.85,31.8 429.6,31.8 430.35,31.8 431.09,31.8 431.84,31.8" fill="none" stroke="#000" stroke-width="1.1" stroke-linejoin="round"/>
<polyline points="327.2,86.8 327.95,86.64 328.69,86.47 329.44,86.29 330.19,86.1 330.94,85.9 331.68,85.69 332.43,85.47 333.18,85.24 333.93,84.99 334.67,84.73 335.42,84.46 336.17,84.18 336.92,83.88 337.66,83.57 338.41,83.25 339.16,82.91 339.91,82.55 340.65,82.18 341.4,81.8 342.15,81.4 342.9,80.98 343.64,80.55 344.39,80.1 345.14,79.64 345.89,79.16 346.63,78.66 347.38,78.15 348.13,77.63 348.88,77.09 349.62,76.53 350.37,75.97 351.12,75.38 351.87,74.79 352.61,74.19 353.36,73.57 354.11,72.95 354.85,72.31 355.6,71.67 356.35,71.02 357.1,70.37 357.84,69.71 358.59,69.05 359.34,68.39 360.09,67.73 360.83,67.07 361.58,66.41 362.33,65.76 363.08,65.11 363.82,64.46 364.57,63.83 365.32,63.2 366.07,62.58 366.81,61.97 367.56,61.37 368.31,60.78 369.06,60.21 369.8,59.65 370.55,59.1 371.3,58.57 372.05,58.05 372.79,57.55 373.54,57.07 374.29,56.6 375.04,56.14 375.78,55.7 376.53,55.28 377.28,54.87 378.03,54.48 378.77,54.1 379.52,53.74 380.27,53.4 381.01,53.07 381.76,52.75 382.51,52.45 383.26,52.16 384,51.88 384.75,51.62 385.5,51.37 386.25,51.13 386.99,50.9 387.74,50.69 388.49,50.48 389.24,50.29 389.98,50.11 390.73,49.93 391.48,49.77 392.23,49.61 392.97,49.46 393.72,49.32 394.47,49.19 395.22,49.06 395.96,48.94 396.71,48.83 397.46,48.72 398.21,48.62 398.95,48.53 399.7,48.44 400.45,48.36 401.2,48.28 401.94,48.2 402.69,48.13 403.44,48.06 404.19,48 404.93,47.94 405.68,47.89 406.43,47.83 407.17,47.79 407.92,47.74 408.67,47.69 409.42,47.65 410.16,47.61 410.91,47.58 411.66,47.54 412.41,47.51 413.15,47.48 413.9,47.45 414.65,47.42 415.4,47.4 416.14,47.38 416.89,47.35 417.64,47.33 418.39,47.31 419.13,47.29 419.88,47.28 420.63,47.26 421.38,47.24 422.12,47.23 422.87,47.22 423.62,47.2 424.37,47.19 425.11,47.18 425.86,47.17 426.61,47.16 427.36,47.15 428.1,47.14 428.85,47.13 429.6,47.12 430.35,47.12 431.09,47.11 431.84,47.1" fill="none" stroke="#000" stroke-width="1.35" stroke-linejoin="round"/>
<polyline points="327.2,75.33 327.95,75.35 328.69,75.37 329.44,75.41 330.19,75.46 330.94,75.53 331.68,75.64 332.43,75.8 333.18,76.03 333.93,76.35 334.67,76.8 335.42,77.4 336.17,78.18 336.92,79.15 337.66,80.28 338.41,81.5 339.16,82.74 339.91,83.9 340.65,84.91 341.4,85.73 342.15,86.38 342.9,86.86 343.64,87.21 344.39,87.45 345.14,87.63 345.89,87.74 346.63,87.83 347.38,87.88 348.13,87.92 348.88,87.95 349.62,87.96 350.37,87.98 351.12,87.98 351.87,87.99 352.61,87.99 353.36,87.99 354.11,88 354.85,88 355.6,88 356.35,88 357.1,88 357.84,88 358.59,88 359.34,88 360.09,88 360.83,88 361.58,88 362.33,88 363.08,88 363.82,88 364.57,88 365.32,88 366.07,88 366.81,88 367.56,88 368.31,88 369.06,88 369.8,88 370.55,88 371.3,88 372.05,88 372.79,88 373.54,88 374.29,88 375.04,88 375.78,88 376.53,88 377.28,88 378.03,88 378.77,88 379.52,88 380.27,88 381.01,88 381.76,88 382.51,88 383.26,88 384,88 384.75,88 385.5,88 386.25,88 386.99,88 387.74,88 388.49,88 389.24,88 389.98,88 390.73,88 391.48,88 392.23,88 392.97,88 393.72,88 394.47,88 395.22,88 395.96,88 396.71,88 397.46,88 398.21,88 398.95,88 399.7,88 400.45,88 401.2,88 401.94,88 402.69,88 403.44,88 404.19,88 404.93,88 405.68,88 406.43,88 407.17,88 407.92,88 408.67,88 409.42,88 410.16,88 410.91,88 411.66,88 412.41,88 413.15,88 413.9,88 414.65,88 415.4,88 416.14,88 416.89,88 417.64,88 418.39,88 419.13,88 419.88,88 420.63,88 421.38,88 422.12,88 422.87,88 423.62,88 424.37,88 425.11,88 425.86,88 426.61,88 427.36,88 428.1,88 428.85,88 429.6,88 430.35,88 431.09,88 431.84,88" fill="none" stroke="#000" stroke-width="1.35" stroke-linejoin="round"/>
<path d="M325.07 86.23H329.33L327.2 89.93Z" fill="#000"/>
<line x1="338.9" y1="79" x2="338.9" y2="83" stroke="#000" stroke-width="1.25"/>
<line x1="336.8" y1="79" x2="341" y2="79" stroke="#000" stroke-width="1.25"/>
<line x1="336.8" y1="83" x2="341" y2="83" stroke="#000" stroke-width="1.25"/>
<path d="M336.77 79.33H341.03L338.9 83.03Z" fill="#000"/>
<line x1="353.6" y1="70.8" x2="353.6" y2="76.4" stroke="#000" stroke-width="1.25"/>
<line x1="351.5" y1="70.8" x2="355.7" y2="70.8" stroke="#000" stroke-width="1.25"/>
<line x1="351.5" y1="76.4" x2="355.7" y2="76.4" stroke="#000" stroke-width="1.25"/>
<path d="M351.47 71.63H355.73L353.6 75.33Z" fill="#000"/>
<line x1="366.44" y1="55" x2="366.44" y2="58.8" stroke="#000" stroke-width="1.25"/>
<line x1="364.34" y1="55" x2="368.54" y2="55" stroke="#000" stroke-width="1.25"/>
<line x1="364.34" y1="58.8" x2="368.54" y2="58.8" stroke="#000" stroke-width="1.25"/>
<path d="M364.31 55.43H368.57L366.44 59.13Z" fill="#000"/>
<line x1="379.52" y1="52" x2="379.52" y2="58" stroke="#000" stroke-width="1.25"/>
<line x1="377.42" y1="52" x2="381.62" y2="52" stroke="#000" stroke-width="1.25"/>
<line x1="377.42" y1="58" x2="381.62" y2="58" stroke="#000" stroke-width="1.25"/>
<path d="M377.39 53.83H381.65L379.52 57.53Z" fill="#000"/>
<line x1="392.6" y1="48" x2="392.6" y2="53" stroke="#000" stroke-width="1.25"/>
<line x1="390.5" y1="48" x2="394.7" y2="48" stroke="#000" stroke-width="1.25"/>
<line x1="390.5" y1="53" x2="394.7" y2="53" stroke="#000" stroke-width="1.25"/>
<path d="M390.47 48.93H394.73L392.6 52.63Z" fill="#000"/>
<line x1="405.68" y1="41.4" x2="405.68" y2="54.3" stroke="#000" stroke-width="1.25"/>
<line x1="403.58" y1="41.4" x2="407.78" y2="41.4" stroke="#000" stroke-width="1.25"/>
<line x1="403.58" y1="54.3" x2="407.78" y2="54.3" stroke="#000" stroke-width="1.25"/>
<path d="M403.55 45.63H407.81L405.68 49.33Z" fill="#000"/>
<line x1="418.76" y1="42.2" x2="418.76" y2="55.4" stroke="#000" stroke-width="1.25"/>
<line x1="416.66" y1="42.2" x2="420.86" y2="42.2" stroke="#000" stroke-width="1.25"/>
<line x1="416.66" y1="55.4" x2="420.86" y2="55.4" stroke="#000" stroke-width="1.25"/>
<path d="M416.63 45.63H420.89L418.76 49.33Z" fill="#000"/>
<line x1="431.84" y1="41.4" x2="431.84" y2="48.8" stroke="#000" stroke-width="1.25"/>
<line x1="429.74" y1="41.4" x2="433.94" y2="41.4" stroke="#000" stroke-width="1.25"/>
<line x1="429.74" y1="48.8" x2="433.94" y2="48.8" stroke="#000" stroke-width="1.25"/>
<path d="M429.71 43.13H433.97L431.84 46.83Z" fill="#000"/>
<rect x="325.35" y="71.95" width="3.7" height="3.7" fill="#000"/>
<rect x="337.05" y="58.85" width="3.7" height="3.7" fill="#000"/>
<rect x="351.75" y="37.25" width="3.7" height="3.7" fill="#000"/>
<line x1="366.44" y1="27.3" x2="366.44" y2="30.6" stroke="#000" stroke-width="1.25"/>
<line x1="364.34" y1="27.3" x2="368.54" y2="27.3" stroke="#000" stroke-width="1.25"/>
<line x1="364.34" y1="30.6" x2="368.54" y2="30.6" stroke="#000" stroke-width="1.25"/>
<rect x="364.59" y="27.15" width="3.7" height="3.7" fill="#000"/>
<line x1="379.52" y1="23.3" x2="379.52" y2="37.8" stroke="#000" stroke-width="1.25"/>
<line x1="377.42" y1="23.3" x2="381.62" y2="23.3" stroke="#000" stroke-width="1.25"/>
<line x1="377.42" y1="37.8" x2="381.62" y2="37.8" stroke="#000" stroke-width="1.25"/>
<rect x="377.67" y="29.65" width="3.7" height="3.7" fill="#000"/>
<rect x="390.75" y="33.25" width="3.7" height="3.7" fill="#000"/>
<line x1="405.68" y1="22.4" x2="405.68" y2="39.8" stroke="#000" stroke-width="1.25"/>
<line x1="403.58" y1="22.4" x2="407.78" y2="22.4" stroke="#000" stroke-width="1.25"/>
<line x1="403.58" y1="39.8" x2="407.78" y2="39.8" stroke="#000" stroke-width="1.25"/>
<rect x="403.83" y="27.15" width="3.7" height="3.7" fill="#000"/>
<line x1="418.76" y1="23.6" x2="418.76" y2="32.3" stroke="#000" stroke-width="1.25"/>
<line x1="416.66" y1="23.6" x2="420.86" y2="23.6" stroke="#000" stroke-width="1.25"/>
<line x1="416.66" y1="32.3" x2="420.86" y2="32.3" stroke="#000" stroke-width="1.25"/>
<rect x="416.91" y="27.65" width="3.7" height="3.7" fill="#000"/>
<rect x="429.99" y="23.35" width="3.7" height="3.7" fill="#000"/>
<rect x="325.45" y="74.25" width="3.5" height="3.5" fill="#000"/>
<rect x="337.15" y="79.15" width="3.5" height="3.5" fill="#000"/>
<rect x="377.77" y="33.05" width="3.5" height="3.5" fill="#000"/>
<line x1="392.6" y1="24.9" x2="392.6" y2="31.5" stroke="#000" stroke-width="1.25"/>
<line x1="390.5" y1="24.9" x2="394.7" y2="24.9" stroke="#000" stroke-width="1.25"/>
<line x1="390.5" y1="31.5" x2="394.7" y2="31.5" stroke="#000" stroke-width="1.25"/>
<rect x="390.85" y="26.25" width="3.5" height="3.5" fill="#000"/>
<circle cx="327.2" cy="67.1" r="1.95" fill="#000"/>
<line x1="338.9" y1="40.4" x2="338.9" y2="48" stroke="#000" stroke-width="1.25"/>
<line x1="336.8" y1="40.4" x2="341" y2="40.4" stroke="#000" stroke-width="1.25"/>
<line x1="336.8" y1="48" x2="341" y2="48" stroke="#000" stroke-width="1.25"/>
<circle cx="338.9" cy="44.1" r="1.95" fill="#000"/>
<line x1="353.6" y1="29.5" x2="353.6" y2="33.9" stroke="#000" stroke-width="1.25"/>
<line x1="351.5" y1="29.5" x2="355.7" y2="29.5" stroke="#000" stroke-width="1.25"/>
<line x1="351.5" y1="33.9" x2="355.7" y2="33.9" stroke="#000" stroke-width="1.25"/>
<circle cx="353.6" cy="31.9" r="1.95" fill="#000"/>
<circle cx="366.44" cy="30" r="1.95" fill="#000"/>
<circle cx="379.52" cy="30.5" r="1.95" fill="#000"/>
<circle cx="392.6" cy="30" r="1.95" fill="#000"/>
<circle cx="405.68" cy="31" r="1.95" fill="#000"/>
<circle cx="418.76" cy="37.3" r="1.95" fill="#000"/>
<circle cx="431.84" cy="34" r="1.95" fill="#000"/>
<path d="M353.6 86.14L355.4 88.3L353.6 90.46L351.8 88.3Z" fill="#000"/>
<path d="M366.44 86.14L368.24 88.3L366.44 90.46L364.64 88.3Z" fill="#000"/>
<path d="M379.52 86.14L381.32 88.3L379.52 90.46L377.72 88.3Z" fill="#000"/>
<path d="M392.6 86.14L394.4 88.3L392.6 90.46L390.8 88.3Z" fill="#000"/>
<line x1="405.68" y1="75.5" x2="405.68" y2="88.3" stroke="#000" stroke-width="1.25"/>
<line x1="403.58" y1="75.5" x2="407.78" y2="75.5" stroke="#000" stroke-width="1.25"/>
<line x1="403.58" y1="88.3" x2="407.78" y2="88.3" stroke="#000" stroke-width="1.25"/>
<path d="M405.68 80.34L407.48 82.5L405.68 84.66L403.88 82.5Z" fill="#000"/>
<path d="M418.76 86.14L420.56 88.3L418.76 90.46L416.96 88.3Z" fill="#000"/>
<path d="M431.84 86.14L433.64 88.3L431.84 90.46L430.04 88.3Z" fill="#000"/>
<text x="11.2" y="169.7" font-size="11.6" font-weight="bold" text-anchor="start" textLength="7.6" lengthAdjust="spacingAndGlyphs" stroke="#000" stroke-width="0.35" >C</text>
<line x1="21.7" y1="189.91" x2="21.7" y2="282.6" stroke="#000" stroke-width="1.1"/>
<line x1="18.9" y1="190.41" x2="21.7" y2="190.41" stroke="#000" stroke-width="1.1"/>
<text x="18.6" y="192.5" font-size="5.9" font-weight="bold" text-anchor="end" textLength="9.45" lengthAdjust="spacingAndGlyphs" >150</text>
<line x1="18.9" y1="220.97" x2="21.7" y2="220.97" stroke="#000" stroke-width="1.1"/>
<text x="18.6" y="223.06" font-size="5.9" font-weight="bold" text-anchor="end" textLength="9.45" lengthAdjust="spacingAndGlyphs" >100</text>
<line x1="18.9" y1="251.54" x2="21.7" y2="251.54" stroke="#000" stroke-width="1.1"/>
<text x="18.6" y="253.63" font-size="5.9" font-weight="bold" text-anchor="end" textLength="6.3" lengthAdjust="spacingAndGlyphs" >50</text>
<line x1="18.9" y1="282.1" x2="21.7" y2="282.1" stroke="#000" stroke-width="1.1"/>
<text x="18.6" y="284.19" font-size="5.9" font-weight="bold" text-anchor="end" textLength="3.15" lengthAdjust="spacingAndGlyphs" >0</text>
<line x1="21.2" y1="282.1" x2="159.2" y2="282.1" stroke="#000" stroke-width="1.1"/>
<line x1="21.7" y1="282.1" x2="21.7" y2="283.9" stroke="#000" stroke-width="1.1"/>
<text x="17.3" y="290.6" font-size="5.4" font-weight="bold" text-anchor="start" textLength="5.71" lengthAdjust="spacingAndGlyphs" >10</text>
<text x="23.31" y="288.7" font-size="3.3" font-weight="bold" text-anchor="start" textLength="2.79" lengthAdjust="spacingAndGlyphs" >-6</text>
<line x1="35.4" y1="282.1" x2="35.4" y2="283.9" stroke="#000" stroke-width="1.1"/>
<line x1="49.1" y1="282.1" x2="49.1" y2="283.9" stroke="#000" stroke-width="1.1"/>
<text x="44.7" y="290.6" font-size="5.4" font-weight="bold" text-anchor="start" textLength="5.71" lengthAdjust="spacingAndGlyphs" >10</text>
<text x="50.71" y="288.7" font-size="3.3" font-weight="bold" text-anchor="start" textLength="2.79" lengthAdjust="spacingAndGlyphs" >-4</text>
<line x1="62.8" y1="282.1" x2="62.8" y2="283.9" stroke="#000" stroke-width="1.1"/>
<line x1="76.5" y1="282.1" x2="76.5" y2="283.9" stroke="#000" stroke-width="1.1"/>
<text x="72.1" y="290.6" font-size="5.4" font-weight="bold" text-anchor="start" textLength="5.71" lengthAdjust="spacingAndGlyphs" >10</text>
<text x="78.11" y="288.7" font-size="3.3" font-weight="bold" text-anchor="start" textLength="2.79" lengthAdjust="spacingAndGlyphs" >-2</text>
<line x1="90.2" y1="282.1" x2="90.2" y2="283.9" stroke="#000" stroke-width="1.1"/>
<line x1="103.9" y1="282.1" x2="103.9" y2="283.9" stroke="#000" stroke-width="1.1"/>
<text x="100.03" y="290.6" font-size="5.4" font-weight="bold" text-anchor="start" textLength="5.71" lengthAdjust="spacingAndGlyphs" >10</text>
<text x="106.03" y="288.7" font-size="3.3" font-weight="bold" text-anchor="start" textLength="1.74" lengthAdjust="spacingAndGlyphs" >0</text>
<line x1="117.6" y1="282.1" x2="117.6" y2="283.9" stroke="#000" stroke-width="1.1"/>
<line x1="131.3" y1="282.1" x2="131.3" y2="283.9" stroke="#000" stroke-width="1.1"/>
<text x="127.43" y="290.6" font-size="5.4" font-weight="bold" text-anchor="start" textLength="5.71" lengthAdjust="spacingAndGlyphs" >10</text>
<text x="133.43" y="288.7" font-size="3.3" font-weight="bold" text-anchor="start" textLength="1.74" lengthAdjust="spacingAndGlyphs" >2</text>
<line x1="145" y1="282.1" x2="145" y2="283.9" stroke="#000" stroke-width="1.1"/>
<line x1="158.7" y1="282.1" x2="158.7" y2="283.9" stroke="#000" stroke-width="1.1"/>
<text x="154.83" y="290.6" font-size="5.4" font-weight="bold" text-anchor="start" textLength="5.71" lengthAdjust="spacingAndGlyphs" >10</text>
<text x="160.83" y="288.7" font-size="3.3" font-weight="bold" text-anchor="start" textLength="1.74" lengthAdjust="spacingAndGlyphs" >4</text>
<text x="91.2" y="299" font-size="6.9" font-weight="bold" text-anchor="middle" textLength="70" lengthAdjust="spacingAndGlyphs" stroke="#000" stroke-width="0.22" >Concentration (ng/mL)</text>
<text transform="translate(5.7,239.1) rotate(-90)" x="0" y="0" font-size="5.7" font-weight="bold" text-anchor="middle" textLength="41.4" lengthAdjust="spacingAndGlyphs" stroke="#000" stroke-width="0.2">CD8/CD69 MFI</text>
<rect x="29.6" y="185.47" width="3" height="3" fill="#000"/>
<text x="39.6" y="189" font-size="5.5" font-weight="bold" text-anchor="start" textLength="41" lengthAdjust="spacingAndGlyphs" stroke="#000" stroke-width="0.1" >CD19xCD3 DART</text>
<circle cx="31.1" cy="196.97" r="1.5" fill="#000"/>
<text x="39.6" y="199" font-size="5.5" font-weight="bold" text-anchor="start" textLength="41.27" lengthAdjust="spacingAndGlyphs" stroke="#000" stroke-width="0.1" >CD19xTCR DART</text>
<path d="M29.61 205.96H32.59L31.1 208.56Z" fill="#000"/>
<text x="39.6" y="209.1" font-size="5.5" font-weight="bold" text-anchor="start" textLength="38.49" lengthAdjust="spacingAndGlyphs" stroke="#000" stroke-width="0.1" >CD19xCD3 BiTE</text>
<circle cx="31.1" cy="217.16" r="1.15" fill="#000"/>
<text x="39.6" y="219.2" font-size="5.5" font-weight="bold" text-anchor="start" textLength="39.61" lengthAdjust="spacingAndGlyphs" stroke="#000" stroke-width="0.1" >4420xTCR DART</text>
<rect x="21.7" y="276.0" width="50.8" height="3.0" fill="#a0a0a0"/>
<polyline points="21.7,279.7 22.58,279.7 23.46,279.7 24.34,279.7 25.22,279.7 26.1,279.7 26.98,279.7 27.86,279.7 28.75,279.7 29.63,279.7 30.51,279.7 31.39,279.7 32.27,279.7 33.15,279.7 34.03,279.7 34.91,279.7 35.79,279.7 36.67,279.7 37.55,279.7 38.43,279.7 39.31,279.7 40.19,279.7 41.08,279.7 41.96,279.7 42.84,279.7 43.72,279.7 44.6,279.7 45.48,279.7 46.36,279.7 47.24,279.7 48.12,279.7 49,279.7 49.88,279.7 50.76,279.7 51.64,279.7 52.52,279.7 53.41,279.7 54.29,279.7 55.17,279.7 56.05,279.7 56.93,279.7 57.81,279.7 58.69,279.7 59.57,279.7 60.45,279.7 61.33,279.7 62.21,279.7 63.09,279.7 63.97,279.7 64.86,279.7 65.74,279.7 66.62,279.7 67.5,279.7 68.38,279.7 69.26,279.7 70.14,279.7 71.02,279.7 71.9,279.7 72.78,279.7 73.66,279.7 74.54,279.7 75.42,279.7 76.3,279.7 77.19,279.7 78.07,279.7 78.95,279.7 79.83,279.7 80.71,279.7 81.59,279.7 82.47,279.7 83.35,279.7 84.23,279.7 85.11,279.7 85.99,279.7 86.87,279.7 87.75,279.7 88.63,279.7 89.52,279.7 90.4,279.7 91.28,279.7 92.16,279.7 93.04,279.7 93.92,279.69 94.8,279.69 95.68,279.69 96.56,279.69 97.44,279.69 98.32,279.69 99.2,279.69 100.08,279.69 100.96,279.69 101.84,279.69 102.73,279.68 103.61,279.68 104.49,279.68 105.37,279.68 106.25,279.67 107.13,279.67 108.01,279.67 108.89,279.66 109.77,279.66 110.65,279.66 111.53,279.65 112.41,279.64 113.29,279.64 114.17,279.63 115.06,279.62 115.94,279.61 116.82,279.6 117.7,279.59 118.58,279.58 119.46,279.57 120.34,279.55 121.22,279.53 122.1,279.51 122.98,279.49 123.86,279.47 124.74,279.44 125.62,279.41 126.5,279.38 127.39,279.34 128.27,279.3 129.15,279.26 130.03,279.2 130.91,279.15 131.79,279.08 132.67,279.01 133.55,278.94 134.43,278.85 135.31,278.75 136.19,278.65 137.07,278.53 137.95,278.39 138.83,278.25 139.72,278.09 140.6,277.91 141.48,277.71 142.36,277.49 143.24,277.25 144.12,276.98 145,276.69" fill="none" stroke="#000" stroke-width="1" stroke-linejoin="round"/>
<polyline points="21.7,279.3 22.58,279.3 23.46,279.3 24.34,279.3 25.22,279.3 26.1,279.3 26.98,279.3 27.86,279.3 28.75,279.3 29.63,279.3 30.51,279.3 31.39,279.3 32.27,279.3 33.15,279.3 34.03,279.3 34.91,279.3 35.79,279.3 36.67,279.3 37.55,279.3 38.43,279.3 39.31,279.3 40.19,279.3 41.08,279.3 41.96,279.3 42.84,279.3 43.72,279.3 44.6,279.3 45.48,279.3 46.36,279.3 47.24,279.3 48.12,279.3 49,279.29 49.88,279.29 50.76,279.29 51.64,279.29 52.52,279.29 53.41,279.29 54.29,279.29 55.17,279.28 56.05,279.28 56.93,279.28 57.81,279.27 58.69,279.27 59.57,279.26 60.45,279.25 61.33,279.24 62.21,279.23 63.09,279.22 63.97,279.21 64.86,279.19 65.74,279.17 66.62,279.14 67.5,279.11 68.38,279.08 69.26,279.04 70.14,278.99 71.02,278.94 71.9,278.87 72.78,278.79 73.66,278.7 74.54,278.59 75.42,278.47 76.3,278.32 77.19,278.14 78.07,277.94 78.95,277.7 79.83,277.42 80.71,277.1 81.59,276.73 82.47,276.31 83.35,275.82 84.23,275.26 85.11,274.63 85.99,273.92 86.87,273.12 87.75,272.25 88.63,271.29 89.52,270.25 90.4,269.13 91.28,267.95 92.16,266.72 93.04,265.46 93.92,264.17 94.8,262.88 95.68,261.61 96.56,260.37 97.44,259.18 98.32,258.05 99.2,257 100.08,256.02 100.96,255.13 101.84,254.32 102.73,253.6 103.61,252.95 104.49,252.38 105.37,251.88 106.25,251.44 107.13,251.06 108.01,250.73 108.89,250.45 109.77,250.2 110.65,249.99 111.53,249.81 112.41,249.66 113.29,249.53 114.17,249.42 115.06,249.32 115.94,249.24 116.82,249.17 117.7,249.12 118.58,249.07 119.46,249.03 120.34,248.99 121.22,248.96 122.1,248.94 122.98,248.92 123.86,248.9 124.74,248.88 125.62,248.87 126.5,248.86 127.39,248.85 128.27,248.84 129.15,248.84 130.03,248.83 130.91,248.83 131.79,248.82 132.67,248.82 133.55,248.82 134.43,248.81 135.31,248.81 136.19,248.81 137.07,248.81 137.95,248.81 138.83,248.81 139.72,248.8 140.6,248.8 141.48,248.8 142.36,248.8 143.24,248.8 144.12,248.8 145,248.8" fill="none" stroke="#000" stroke-width="1.1" stroke-linejoin="round"/>
<polyline points="21.7,278.3 22.58,278.3 23.46,278.3 24.34,278.3 25.22,278.3 26.1,278.3 26.98,278.3 27.86,278.3 28.75,278.3 29.63,278.3 30.51,278.3 31.39,278.3 32.27,278.3 33.15,278.3 34.03,278.3 34.91,278.29 35.79,278.29 36.67,278.29 37.55,278.29 38.43,278.29 39.31,278.29 40.19,278.28 41.08,278.28 41.96,278.28 42.84,278.27 43.72,278.27 44.6,278.26 45.48,278.26 46.36,278.25 47.24,278.24 48.12,278.23 49,278.22 49.88,278.2 50.76,278.19 51.64,278.17 52.52,278.14 53.41,278.12 54.29,278.08 55.17,278.04 56.05,278 56.93,277.94 57.81,277.88 58.69,277.8 59.57,277.71 60.45,277.61 61.33,277.49 62.21,277.34 63.09,277.17 63.97,276.98 64.86,276.74 65.74,276.47 66.62,276.16 67.5,275.79 68.38,275.36 69.26,274.87 70.14,274.3 71.02,273.64 71.9,272.89 72.78,272.04 73.66,271.07 74.54,269.99 75.42,268.78 76.3,267.43 77.19,265.96 78.07,264.36 78.95,262.64 79.83,260.82 80.71,258.9 81.59,256.91 82.47,254.88 83.35,252.84 84.23,250.8 85.11,248.8 85.99,246.87 86.87,245.02 87.75,243.28 88.63,241.66 89.52,240.16 90.4,238.79 91.28,237.55 92.16,236.44 93.04,235.45 93.92,234.57 94.8,233.8 95.68,233.13 96.56,232.54 97.44,232.03 98.32,231.59 99.2,231.21 100.08,230.89 100.96,230.61 101.84,230.37 102.73,230.16 103.61,229.99 104.49,229.84 105.37,229.71 106.25,229.61 107.13,229.51 108.01,229.44 108.89,229.37 109.77,229.31 110.65,229.27 111.53,229.23 112.41,229.19 113.29,229.16 114.17,229.14 115.06,229.12 115.94,229.1 116.82,229.08 117.7,229.07 118.58,229.06 119.46,229.05 120.34,229.04 121.22,229.04 122.1,229.03 122.98,229.03 123.86,229.02 124.74,229.02 125.62,229.02 126.5,229.01 127.39,229.01 128.27,229.01 129.15,229.01 130.03,229.01 130.91,229.01 131.79,229 132.67,229 133.55,229 134.43,229 135.31,229 136.19,229 137.07,229 137.95,229 138.83,229 139.72,229 140.6,229 141.48,229 142.36,229 143.24,229 144.12,229 145,229" fill="none" stroke="#000" stroke-width="1" stroke-linejoin="round"/>
<polyline points="21.7,276 22.58,276 23.46,276 24.34,276 25.22,276 26.1,276 26.98,276 27.86,276 28.75,276 29.63,276 30.51,276 31.39,276 32.27,276 33.15,275.99 34.03,275.99 34.91,275.99 35.79,275.99 36.67,275.99 37.55,275.99 38.43,275.98 39.31,275.98 40.19,275.98 41.08,275.97 41.96,275.97 42.84,275.96 43.72,275.96 44.6,275.95 45.48,275.94 46.36,275.93 47.24,275.92 48.12,275.9 49,275.89 49.88,275.87 50.76,275.84 51.64,275.81 52.52,275.78 53.41,275.74 54.29,275.69 55.17,275.64 56.05,275.57 56.93,275.5 57.81,275.41 58.69,275.3 59.57,275.17 60.45,275.03 61.33,274.86 62.21,274.66 63.09,274.42 63.97,274.15 64.86,273.83 65.74,273.46 66.62,273.03 67.5,272.53 68.38,271.95 69.26,271.3 70.14,270.55 71.02,269.69 71.9,268.73 72.78,267.65 73.66,266.44 74.54,265.12 75.42,263.66 76.3,262.09 77.19,260.41 78.07,258.64 78.95,256.78 79.83,254.87 80.71,252.93 81.59,250.98 82.47,249.05 83.35,247.16 84.23,245.35 85.11,243.63 85.99,242.01 86.87,240.5 87.75,239.12 88.63,237.86 89.52,236.73 90.4,235.71 91.28,234.81 92.16,234.02 93.04,233.32 93.92,232.71 94.8,232.18 95.68,231.72 96.56,231.33 97.44,230.99 98.32,230.69 99.2,230.44 100.08,230.23 100.96,230.04 101.84,229.89 102.73,229.75 103.61,229.64 104.49,229.54 105.37,229.46 106.25,229.39 107.13,229.33 108.01,229.28 108.89,229.24 109.77,229.2 110.65,229.17 111.53,229.14 112.41,229.12 113.29,229.1 114.17,229.09 115.06,229.07 115.94,229.06 116.82,229.05 117.7,229.05 118.58,229.04 119.46,229.03 120.34,229.03 121.22,229.02 122.1,229.02 122.98,229.02 123.86,229.01 124.74,229.01 125.62,229.01 126.5,229.01 127.39,229.01 128.27,229.01 129.15,229.01 130.03,229 130.91,229 131.79,229 132.67,229 133.55,229 134.43,229 135.31,229 136.19,229 137.07,229 137.95,229 138.83,229 139.72,229 140.6,229 141.48,229 142.36,229 143.24,229 144.12,229 145,229" fill="none" stroke="#000" stroke-width="1" stroke-linejoin="round"/>
<circle cx="21.7" cy="279.7" r="0.9" fill="#000"/>
<circle cx="35.4" cy="279.7" r="0.9" fill="#000"/>
<circle cx="49.1" cy="279.7" r="0.9" fill="#000"/>
<circle cx="62.8" cy="279.7" r="0.9" fill="#000"/>
<circle cx="76.5" cy="279.7" r="0.9" fill="#000"/>
<circle cx="90.2" cy="279.7" r="0.9" fill="#000"/>
<circle cx="103.9" cy="279.7" r="0.9" fill="#000"/>
<circle cx="117.6" cy="279.7" r="0.9" fill="#000"/>
<circle cx="131.3" cy="279.7" r="0.9" fill="#000"/>
<circle cx="145" cy="275.5" r="0.9" fill="#000"/>
<path d="M19.97 278.03H23.43L21.7 281.03Z" fill="#000"/>
<path d="M33.67 278.03H37.12L35.4 281.03Z" fill="#000"/>
<path d="M47.37 277.73H50.82L49.1 280.73Z" fill="#000"/>
<path d="M61.07 277.23H64.52L62.8 280.23Z" fill="#000"/>
<path d="M74.78 274.23H78.22L76.5 277.23Z" fill="#000"/>
<line x1="90.2" y1="263.5" x2="90.2" y2="267.7" stroke="#000" stroke-width="1.15"/>
<line x1="88.2" y1="263.5" x2="92.2" y2="263.5" stroke="#000" stroke-width="1.15"/>
<line x1="88.2" y1="267.7" x2="92.2" y2="267.7" stroke="#000" stroke-width="1.15"/>
<path d="M88.48 264.23H91.92L90.2 267.23Z" fill="#000"/>
<path d="M102.17 250.03H105.62L103.9 253.03Z" fill="#000"/>
<path d="M115.88 247.53H119.32L117.6 250.53Z" fill="#000"/>
<path d="M129.57 247.53H133.02L131.3 250.53Z" fill="#000"/>
<line x1="145" y1="245.8" x2="145" y2="252.5" stroke="#000" stroke-width="1.15"/>
<line x1="143" y1="245.8" x2="147" y2="245.8" stroke="#000" stroke-width="1.15"/>
<line x1="143" y1="252.5" x2="147" y2="252.5" stroke="#000" stroke-width="1.15"/>
<path d="M143.28 247.53H146.72L145 250.53Z" fill="#000"/>
<line x1="21.7" y1="275" x2="21.7" y2="279.5" stroke="#000" stroke-width="1.15"/>
<line x1="19.7" y1="275" x2="23.7" y2="275" stroke="#000" stroke-width="1.15"/>
<line x1="19.7" y1="279.5" x2="23.7" y2="279.5" stroke="#000" stroke-width="1.15"/>
<rect x="20.05" y="275.35" width="3.3" height="3.3" fill="#000"/>
<line x1="35.4" y1="276" x2="35.4" y2="279.5" stroke="#000" stroke-width="1.15"/>
<line x1="33.4" y1="276" x2="37.4" y2="276" stroke="#000" stroke-width="1.15"/>
<line x1="33.4" y1="279.5" x2="37.4" y2="279.5" stroke="#000" stroke-width="1.15"/>
<rect x="33.75" y="275.85" width="3.3" height="3.3" fill="#000"/>
<line x1="49.1" y1="269.5" x2="49.1" y2="277.5" stroke="#000" stroke-width="1.15"/>
<line x1="47.1" y1="269.5" x2="51.1" y2="269.5" stroke="#000" stroke-width="1.15"/>
<line x1="47.1" y1="277.5" x2="51.1" y2="277.5" stroke="#000" stroke-width="1.15"/>
<rect x="47.45" y="272.85" width="3.3" height="3.3" fill="#000"/>
<line x1="62.8" y1="268.5" x2="62.8" y2="275.5" stroke="#000" stroke-width="1.15"/>
<line x1="60.8" y1="268.5" x2="64.8" y2="268.5" stroke="#000" stroke-width="1.15"/>
<line x1="60.8" y1="275.5" x2="64.8" y2="275.5" stroke="#000" stroke-width="1.15"/>
<rect x="61.15" y="270.85" width="3.3" height="3.3" fill="#000"/>
<line x1="76.5" y1="254.3" x2="76.5" y2="262.3" stroke="#000" stroke-width="1.15"/>
<line x1="74.5" y1="254.3" x2="78.5" y2="254.3" stroke="#000" stroke-width="1.15"/>
<line x1="74.5" y1="262.3" x2="78.5" y2="262.3" stroke="#000" stroke-width="1.15"/>
<rect x="74.85" y="256.85" width="3.3" height="3.3" fill="#000"/>
<line x1="90.2" y1="240" x2="90.2" y2="245.5" stroke="#000" stroke-width="1.15"/>
<line x1="88.2" y1="240" x2="92.2" y2="240" stroke="#000" stroke-width="1.15"/>
<line x1="88.2" y1="245.5" x2="92.2" y2="245.5" stroke="#000" stroke-width="1.15"/>
<rect x="88.55" y="240.85" width="3.3" height="3.3" fill="#000"/>
<line x1="103.9" y1="219.8" x2="103.9" y2="224.2" stroke="#000" stroke-width="1.15"/>
<line x1="101.9" y1="219.8" x2="105.9" y2="219.8" stroke="#000" stroke-width="1.15"/>
<line x1="101.9" y1="224.2" x2="105.9" y2="224.2" stroke="#000" stroke-width="1.15"/>
<rect x="102.25" y="220.25" width="3.3" height="3.3" fill="#000"/>
<line x1="117.6" y1="225.5" x2="117.6" y2="231.5" stroke="#000" stroke-width="1.15"/>
<line x1="115.6" y1="225.5" x2="119.6" y2="225.5" stroke="#000" stroke-width="1.15"/>
<line x1="115.6" y1="231.5" x2="119.6" y2="231.5" stroke="#000" stroke-width="1.15"/>
<rect x="115.95" y="226.85" width="3.3" height="3.3" fill="#000"/>
<line x1="131.3" y1="229.8" x2="131.3" y2="237.7" stroke="#000" stroke-width="1.15"/>
<line x1="129.3" y1="229.8" x2="133.3" y2="229.8" stroke="#000" stroke-width="1.15"/>
<line x1="129.3" y1="237.7" x2="133.3" y2="237.7" stroke="#000" stroke-width="1.15"/>
<rect x="129.65" y="233.35" width="3.3" height="3.3" fill="#000"/>
<line x1="145" y1="221.9" x2="145" y2="236.7" stroke="#000" stroke-width="1.15"/>
<line x1="143" y1="221.9" x2="147" y2="221.9" stroke="#000" stroke-width="1.15"/>
<line x1="143" y1="236.7" x2="147" y2="236.7" stroke="#000" stroke-width="1.15"/>
<rect x="143.35" y="230.35" width="3.3" height="3.3" fill="#000"/>
<circle cx="62.8" cy="274" r="1.65" fill="#000"/>
<circle cx="76.5" cy="262" r="1.65" fill="#000"/>
<circle cx="90.2" cy="240.5" r="1.65" fill="#000"/>
<circle cx="117.6" cy="230.5" r="1.65" fill="#000"/>
<circle cx="145" cy="229.3" r="1.65" fill="#000"/>
<text x="183.3" y="169.7" font-size="11.6" font-weight="bold" text-anchor="start" textLength="7.5" lengthAdjust="spacingAndGlyphs" stroke="#000" stroke-width="0.35" >D</text>
<line x1="200.5" y1="191.24" x2="200.5" y2="285.2" stroke="#000" stroke-width="1.1"/>
<line x1="197.7" y1="191.74" x2="200.5" y2="191.74" stroke="#000" stroke-width="1.1"/>
<text x="197.5" y="193.83" font-size="5.9" font-weight="bold" text-anchor="end" textLength="9.45" lengthAdjust="spacingAndGlyphs" >400</text>
<line x1="197.7" y1="214.98" x2="200.5" y2="214.98" stroke="#000" stroke-width="1.1"/>
<text x="197.5" y="217.07" font-size="5.9" font-weight="bold" text-anchor="end" textLength="9.45" lengthAdjust="spacingAndGlyphs" >300</text>
<line x1="197.7" y1="238.22" x2="200.5" y2="238.22" stroke="#000" stroke-width="1.1"/>
<text x="197.5" y="240.31" font-size="5.9" font-weight="bold" text-anchor="end" textLength="9.45" lengthAdjust="spacingAndGlyphs" >200</text>
<line x1="197.7" y1="261.46" x2="200.5" y2="261.46" stroke="#000" stroke-width="1.1"/>
<text x="197.5" y="263.55" font-size="5.9" font-weight="bold" text-anchor="end" textLength="9.45" lengthAdjust="spacingAndGlyphs" >100</text>
<line x1="197.7" y1="284.7" x2="200.5" y2="284.7" stroke="#000" stroke-width="1.1"/>
<text x="197.5" y="286.79" font-size="5.9" font-weight="bold" text-anchor="end" textLength="3.15" lengthAdjust="spacingAndGlyphs" >0</text>
<line x1="200" y1="284.7" x2="339.7" y2="284.7" stroke="#000" stroke-width="1.1"/>
<line x1="200.5" y1="284.7" x2="200.5" y2="286.5" stroke="#000" stroke-width="1.1"/>
<text x="196.1" y="293" font-size="5.4" font-weight="bold" text-anchor="start" textLength="5.71" lengthAdjust="spacingAndGlyphs" >10</text>
<text x="202.11" y="291.1" font-size="3.3" font-weight="bold" text-anchor="start" textLength="2.79" lengthAdjust="spacingAndGlyphs" >-6</text>
<line x1="214.37" y1="284.7" x2="214.37" y2="286.5" stroke="#000" stroke-width="1.1"/>
<line x1="228.24" y1="284.7" x2="228.24" y2="286.5" stroke="#000" stroke-width="1.1"/>
<text x="223.84" y="293" font-size="5.4" font-weight="bold" text-anchor="start" textLength="5.71" lengthAdjust="spacingAndGlyphs" >10</text>
<text x="229.85" y="291.1" font-size="3.3" font-weight="bold" text-anchor="start" textLength="2.79" lengthAdjust="spacingAndGlyphs" >-4</text>
<line x1="242.11" y1="284.7" x2="242.11" y2="286.5" stroke="#000" stroke-width="1.1"/>
<line x1="255.98" y1="284.7" x2="255.98" y2="286.5" stroke="#000" stroke-width="1.1"/>
<text x="251.58" y="293" font-size="5.4" font-weight="bold" text-anchor="start" textLength="5.71" lengthAdjust="spacingAndGlyphs" >10</text>
<text x="257.59" y="291.1" font-size="3.3" font-weight="bold" text-anchor="start" textLength="2.79" lengthAdjust="spacingAndGlyphs" >-2</text>
<line x1="269.85" y1="284.7" x2="269.85" y2="286.5" stroke="#000" stroke-width="1.1"/>
<line x1="283.72" y1="284.7" x2="283.72" y2="286.5" stroke="#000" stroke-width="1.1"/>
<text x="279.85" y="293" font-size="5.4" font-weight="bold" text-anchor="start" textLength="5.71" lengthAdjust="spacingAndGlyphs" >10</text>
<text x="285.85" y="291.1" font-size="3.3" font-weight="bold" text-anchor="start" textLength="1.74" lengthAdjust="spacingAndGlyphs" >0</text>
<line x1="297.59" y1="284.7" x2="297.59" y2="286.5" stroke="#000" stroke-width="1.1"/>
<line x1="311.46" y1="284.7" x2="311.46" y2="286.5" stroke="#000" stroke-width="1.1"/>
<text x="307.59" y="293" font-size="5.4" font-weight="bold" text-anchor="start" textLength="5.71" lengthAdjust="spacingAndGlyphs" >10</text>
<text x="313.59" y="291.1" font-size="3.3" font-weight="bold" text-anchor="start" textLength="1.74" lengthAdjust="spacingAndGlyphs" >2</text>
<line x1="325.33" y1="284.7" x2="325.33" y2="286.5" stroke="#000" stroke-width="1.1"/>
<line x1="339.2" y1="284.7" x2="339.2" y2="286.5" stroke="#000" stroke-width="1.1"/>
<text x="335.33" y="293" font-size="5.4" font-weight="bold" text-anchor="start" textLength="5.71" lengthAdjust="spacingAndGlyphs" >10</text>
<text x="341.33" y="291.1" font-size="3.3" font-weight="bold" text-anchor="start" textLength="1.74" lengthAdjust="spacingAndGlyphs" >4</text>
<text x="271.15" y="301.8" font-size="6.9" font-weight="bold" text-anchor="middle" textLength="72.5" lengthAdjust="spacingAndGlyphs" stroke="#000" stroke-width="0.22" >Concentration (ng/mL)</text>
<text transform="translate(184.7,237) rotate(-90)" x="0" y="0" font-size="5.7" font-weight="bold" text-anchor="middle" textLength="41" lengthAdjust="spacingAndGlyphs" stroke="#000" stroke-width="0.2">CD4/CD69 MFI</text>
<rect x="211.15" y="191.62" width="2.9" height="2.9" fill="#000"/>
<text x="220.9" y="195.1" font-size="5.5" font-weight="bold" text-anchor="start" textLength="41.5" lengthAdjust="spacingAndGlyphs" stroke="#000" stroke-width="0.1" >CD19xCD3 DART</text>
<circle cx="212.6" cy="202.06" r="1.5" fill="#000"/>
<text x="220.9" y="204.1" font-size="5.5" font-weight="bold" text-anchor="start" textLength="41.78" lengthAdjust="spacingAndGlyphs" stroke="#000" stroke-width="0.1" >CD19xTCR DART</text>
<path d="M210.99 210.18H214.21L212.6 212.98Z" fill="#000"/>
<text x="220.9" y="213.4" font-size="5.5" font-weight="bold" text-anchor="start" textLength="38.96" lengthAdjust="spacingAndGlyphs" stroke="#000" stroke-width="0.1" >CD19xCD3 BiTE</text>
<path d="M212.6 219.95L214.2 221.87L212.6 223.78L211 221.87Z" fill="#000"/>
<text x="220.9" y="223.9" font-size="5.5" font-weight="bold" text-anchor="start" textLength="40.09" lengthAdjust="spacingAndGlyphs" stroke="#000" stroke-width="0.1" >4420xTCR DART</text>
<rect x="200.5" y="277.5" width="41.61" height="4" fill="#a8a8a8"/>
<line x1="200.5" y1="282.2" x2="325.33" y2="282.2" stroke="#000" stroke-width="1"/>
<line x1="200.5" y1="279.8" x2="246.11" y2="279.8" stroke="#000" stroke-width="0.8"/>
<polyline points="200.5,281 201.39,281 202.28,281 203.17,281 204.07,281 204.96,281 205.85,281 206.74,281 207.63,281 208.52,281 209.42,281 210.31,281 211.2,281 212.09,281 212.98,281 213.87,281 214.77,281 215.66,281 216.55,280.99 217.44,280.99 218.33,280.99 219.22,280.99 220.12,280.99 221.01,280.99 221.9,280.99 222.79,280.99 223.68,280.98 224.57,280.98 225.47,280.98 226.36,280.97 227.25,280.97 228.14,280.96 229.03,280.96 229.92,280.95 230.82,280.94 231.71,280.93 232.6,280.92 233.49,280.91 234.38,280.9 235.27,280.88 236.17,280.86 237.06,280.84 237.95,280.81 238.84,280.79 239.73,280.75 240.62,280.71 241.52,280.67 242.41,280.61 243.3,280.55 244.19,280.48 245.08,280.4 245.97,280.3 246.87,280.19 247.76,280.07 248.65,279.92 249.54,279.75 250.43,279.56 251.32,279.34 252.22,279.09 253.11,278.8 254,278.46 254.89,278.09 255.78,277.66 256.67,277.17 257.57,276.62 258.46,276 259.35,275.31 260.24,274.54 261.13,273.68 262.02,272.74 262.91,271.71 263.81,270.58 264.7,269.37 265.59,268.08 266.48,266.71 267.37,265.28 268.26,263.79 269.16,262.25 270.05,260.69 270.94,259.13 271.83,257.57 272.72,256.04 273.61,254.54 274.51,253.11 275.4,251.74 276.29,250.44 277.18,249.23 278.07,248.11 278.96,247.08 279.86,246.13 280.75,245.27 281.64,244.5 282.53,243.81 283.42,243.19 284.31,242.64 285.21,242.15 286.1,241.72 286.99,241.34 287.88,241.01 288.77,240.72 289.66,240.46 290.56,240.24 291.45,240.05 292.34,239.88 293.23,239.73 294.12,239.61 295.01,239.5 295.91,239.4 296.8,239.32 297.69,239.25 298.58,239.19 299.47,239.13 300.36,239.09 301.26,239.05 302.15,239.01 303.04,238.99 303.93,238.96 304.82,238.94 305.71,238.92 306.61,238.9 307.5,238.89 308.39,238.88 309.28,238.87 310.17,238.86 311.06,238.85 311.96,238.84 312.85,238.84 313.74,238.83 314.63,238.83 315.52,238.82 316.41,238.82 317.31,238.82 318.2,238.81 319.09,238.81 319.98,238.81 320.87,238.81 321.76,238.81 322.66,238.81 323.55,238.81 324.44,238.81 325.33,238.8" fill="none" stroke="#000" stroke-width="1.1" stroke-linejoin="round"/>
<polyline points="200.5,277.8 201.39,277.8 202.28,277.8 203.17,277.8 204.07,277.8 204.96,277.8 205.85,277.8 206.74,277.8 207.63,277.8 208.52,277.8 209.42,277.79 210.31,277.79 211.2,277.79 212.09,277.79 212.98,277.79 213.87,277.79 214.77,277.79 215.66,277.78 216.55,277.78 217.44,277.78 218.33,277.77 219.22,277.77 220.12,277.76 221.01,277.75 221.9,277.75 222.79,277.74 223.68,277.72 224.57,277.71 225.47,277.69 226.36,277.67 227.25,277.65 228.14,277.62 229.03,277.59 229.92,277.55 230.82,277.51 231.71,277.45 232.6,277.39 233.49,277.32 234.38,277.23 235.27,277.13 236.17,277 237.06,276.86 237.95,276.69 238.84,276.49 239.73,276.26 240.62,275.99 241.52,275.67 242.41,275.3 243.3,274.87 244.19,274.36 245.08,273.78 245.97,273.1 246.87,272.33 247.76,271.44 248.65,270.44 249.54,269.3 250.43,268.02 251.32,266.6 252.22,265.02 253.11,263.3 254,261.44 254.89,259.45 255.78,257.35 256.67,255.16 257.57,252.9 258.46,250.61 259.35,248.32 260.24,246.06 261.13,243.86 262.02,241.75 262.91,239.74 263.81,237.87 264.7,236.14 265.59,234.55 266.48,233.11 267.37,231.82 268.26,230.67 269.16,229.65 270.05,228.75 270.94,227.97 271.83,227.28 272.72,226.69 273.61,226.18 274.51,225.74 275.4,225.36 276.29,225.04 277.18,224.76 278.07,224.53 278.96,224.33 279.86,224.15 280.75,224.01 281.64,223.88 282.53,223.78 283.42,223.69 284.31,223.62 285.21,223.55 286.1,223.5 286.99,223.45 287.88,223.41 288.77,223.38 289.66,223.35 290.56,223.33 291.45,223.31 292.34,223.29 293.23,223.28 294.12,223.27 295.01,223.26 295.91,223.25 296.8,223.24 297.69,223.23 298.58,223.23 299.47,223.22 300.36,223.22 301.26,223.22 302.15,223.21 303.04,223.21 303.93,223.21 304.82,223.21 305.71,223.21 306.61,223.21 307.5,223.21 308.39,223.2 309.28,223.2 310.17,223.2 311.06,223.2 311.96,223.2 312.85,223.2 313.74,223.2 314.63,223.2 315.52,223.2 316.41,223.2 317.31,223.2 318.2,223.2 319.09,223.2 319.98,223.2 320.87,223.2 321.76,223.2 322.66,223.2 323.55,223.2 324.44,223.2 325.33,223.2" fill="none" stroke="#000" stroke-width="1" stroke-linejoin="round"/>
<polyline points="200.5,275.1 201.39,275.1 202.28,275.1 203.17,275.1 204.07,275.1 204.96,275.1 205.85,275.1 206.74,275.1 207.63,275.09 208.52,275.09 209.42,275.09 210.31,275.09 211.2,275.09 212.09,275.09 212.98,275.08 213.87,275.08 214.77,275.08 215.66,275.07 216.55,275.07 217.44,275.06 218.33,275.06 219.22,275.05 220.12,275.04 221.01,275.03 221.9,275.02 222.79,275 223.68,274.98 224.57,274.96 225.47,274.93 226.36,274.9 227.25,274.87 228.14,274.83 229.03,274.78 229.92,274.72 230.82,274.65 231.71,274.57 232.6,274.47 233.49,274.36 234.38,274.22 235.27,274.07 236.17,273.88 237.06,273.66 237.95,273.41 238.84,273.11 239.73,272.76 240.62,272.35 241.52,271.88 242.41,271.33 243.3,270.7 244.19,269.98 245.08,269.14 245.97,268.19 246.87,267.12 247.76,265.91 248.65,264.57 249.54,263.08 250.43,261.44 251.32,259.67 252.22,257.78 253.11,255.77 254,253.67 254.89,251.5 255.78,249.29 256.67,247.08 257.57,244.89 258.46,242.75 259.35,240.69 260.24,238.74 261.13,236.9 262.02,235.2 262.91,233.64 263.81,232.23 264.7,230.95 265.59,229.82 266.48,228.81 267.37,227.92 268.26,227.14 269.16,226.46 270.05,225.88 270.94,225.37 271.83,224.93 272.72,224.55 273.61,224.23 274.51,223.96 275.4,223.72 276.29,223.52 277.18,223.35 278.07,223.21 278.96,223.08 279.86,222.98 280.75,222.89 281.64,222.81 282.53,222.75 283.42,222.7 284.31,222.65 285.21,222.61 286.1,222.58 286.99,222.55 287.88,222.53 288.77,222.51 289.66,222.49 290.56,222.48 291.45,222.47 292.34,222.46 293.23,222.45 294.12,222.44 295.01,222.43 295.91,222.43 296.8,222.42 297.69,222.42 298.58,222.42 299.47,222.41 300.36,222.41 301.26,222.41 302.15,222.41 303.04,222.41 303.93,222.41 304.82,222.41 305.71,222.4 306.61,222.4 307.5,222.4 308.39,222.4 309.28,222.4 310.17,222.4 311.06,222.4 311.96,222.4 312.85,222.4 313.74,222.4 314.63,222.4 315.52,222.4 316.41,222.4 317.31,222.4 318.2,222.4 319.09,222.4 319.98,222.4 320.87,222.4 321.76,222.4 322.66,222.4 323.55,222.4 324.44,222.4 325.33,222.4" fill="none" stroke="#000" stroke-width="1" stroke-linejoin="round"/>
<path d="M200.5 280.88L201.6 282.2L200.5 283.52L199.4 282.2Z" fill="#000"/>
<path d="M214.37 280.88L215.47 282.2L214.37 283.52L213.27 282.2Z" fill="#000"/>
<path d="M228.24 280.88L229.34 282.2L228.24 283.52L227.14 282.2Z" fill="#000"/>
<path d="M242.11 280.88L243.21 282.2L242.11 283.52L241.01 282.2Z" fill="#000"/>
<path d="M255.98 280.88L257.08 282.2L255.98 283.52L254.88 282.2Z" fill="#000"/>
<path d="M269.85 280.88L270.95 282.2L269.85 283.52L268.75 282.2Z" fill="#000"/>
<path d="M283.72 280.88L284.82 282.2L283.72 283.52L282.62 282.2Z" fill="#000"/>
<path d="M297.59 280.88L298.69 282.2L297.59 283.52L296.49 282.2Z" fill="#000"/>
<path d="M311.46 280.88L312.56 282.2L311.46 283.52L310.36 282.2Z" fill="#000"/>
<path d="M325.33 279.88L326.43 281.2L325.33 282.52L324.23 281.2Z" fill="#000"/>
<path d="M198.78 279.73H202.22L200.5 282.73Z" fill="#000"/>
<path d="M212.65 279.73H216.09L214.37 282.73Z" fill="#000"/>
<path d="M226.52 279.23H229.97L228.24 282.23Z" fill="#000"/>
<path d="M240.39 277.53H243.84L242.11 280.53Z" fill="#000"/>
<path d="M254.25 271.93H257.7L255.98 274.93Z" fill="#000"/>
<path d="M268.12 256.53H271.58L269.85 259.53Z" fill="#000"/>
<path d="M282 238.22H285.45L283.72 241.22Z" fill="#000"/>
<path d="M295.86 237.53H299.31L297.59 240.53Z" fill="#000"/>
<line x1="311.46" y1="236" x2="311.46" y2="241.2" stroke="#000" stroke-width="1.15"/>
<line x1="309.46" y1="236" x2="313.46" y2="236" stroke="#000" stroke-width="1.15"/>
<line x1="309.46" y1="241.2" x2="313.46" y2="241.2" stroke="#000" stroke-width="1.15"/>
<path d="M309.73 237.53H313.19L311.46 240.53Z" fill="#000"/>
<line x1="325.33" y1="236" x2="325.33" y2="242" stroke="#000" stroke-width="1.15"/>
<line x1="323.33" y1="236" x2="327.33" y2="236" stroke="#000" stroke-width="1.15"/>
<line x1="323.33" y1="242" x2="327.33" y2="242" stroke="#000" stroke-width="1.15"/>
<path d="M323.6 237.53H327.06L325.33 240.53Z" fill="#000"/>
<line x1="200.5" y1="274.5" x2="200.5" y2="282" stroke="#000" stroke-width="1.15"/>
<line x1="198.5" y1="274.5" x2="202.5" y2="274.5" stroke="#000" stroke-width="1.15"/>
<line x1="198.5" y1="282" x2="202.5" y2="282" stroke="#000" stroke-width="1.15"/>
<rect x="198.85" y="274.85" width="3.3" height="3.3" fill="#000"/>
<line x1="214.37" y1="276.1" x2="214.37" y2="282.7" stroke="#000" stroke-width="1.15"/>
<line x1="212.37" y1="276.1" x2="216.37" y2="276.1" stroke="#000" stroke-width="1.15"/>
<line x1="212.37" y1="282.7" x2="216.37" y2="282.7" stroke="#000" stroke-width="1.15"/>
<rect x="212.72" y="276.85" width="3.3" height="3.3" fill="#000"/>
<line x1="228.24" y1="267.7" x2="228.24" y2="282" stroke="#000" stroke-width="1.15"/>
<line x1="226.24" y1="267.7" x2="230.24" y2="267.7" stroke="#000" stroke-width="1.15"/>
<line x1="226.24" y1="282" x2="230.24" y2="282" stroke="#000" stroke-width="1.15"/>
<rect x="226.59" y="271.35" width="3.3" height="3.3" fill="#000"/>
<line x1="242.11" y1="264.5" x2="242.11" y2="274" stroke="#000" stroke-width="1.15"/>
<line x1="240.11" y1="264.5" x2="244.11" y2="264.5" stroke="#000" stroke-width="1.15"/>
<line x1="240.11" y1="274" x2="244.11" y2="274" stroke="#000" stroke-width="1.15"/>
<rect x="240.46" y="267.35" width="3.3" height="3.3" fill="#000"/>
<line x1="255.98" y1="249.5" x2="255.98" y2="255.5" stroke="#000" stroke-width="1.15"/>
<line x1="253.98" y1="249.5" x2="257.98" y2="249.5" stroke="#000" stroke-width="1.15"/>
<line x1="253.98" y1="255.5" x2="257.98" y2="255.5" stroke="#000" stroke-width="1.15"/>
<rect x="254.33" y="249.85" width="3.3" height="3.3" fill="#000"/>
<line x1="269.85" y1="231" x2="269.85" y2="235.6" stroke="#000" stroke-width="1.15"/>
<line x1="267.85" y1="231" x2="271.85" y2="231" stroke="#000" stroke-width="1.15"/>
<line x1="267.85" y1="235.6" x2="271.85" y2="235.6" stroke="#000" stroke-width="1.15"/>
<rect x="268.2" y="231.75" width="3.3" height="3.3" fill="#000"/>
<line x1="283.72" y1="212.4" x2="283.72" y2="218.2" stroke="#000" stroke-width="1.15"/>
<line x1="281.72" y1="212.4" x2="285.72" y2="212.4" stroke="#000" stroke-width="1.15"/>
<line x1="281.72" y1="218.2" x2="285.72" y2="218.2" stroke="#000" stroke-width="1.15"/>
<rect x="282.07" y="213.55" width="3.3" height="3.3" fill="#000"/>
<line x1="297.59" y1="220.3" x2="297.59" y2="224" stroke="#000" stroke-width="1.15"/>
<line x1="295.59" y1="220.3" x2="299.59" y2="220.3" stroke="#000" stroke-width="1.15"/>
<line x1="295.59" y1="224" x2="299.59" y2="224" stroke="#000" stroke-width="1.15"/>
<rect x="295.94" y="220.35" width="3.3" height="3.3" fill="#000"/>
<line x1="311.46" y1="222.2" x2="311.46" y2="228.2" stroke="#000" stroke-width="1.15"/>
<line x1="309.46" y1="222.2" x2="313.46" y2="222.2" stroke="#000" stroke-width="1.15"/>
<line x1="309.46" y1="228.2" x2="313.46" y2="228.2" stroke="#000" stroke-width="1.15"/>
<rect x="309.81" y="223.35" width="3.3" height="3.3" fill="#000"/>
<line x1="325.33" y1="219.5" x2="325.33" y2="230.1" stroke="#000" stroke-width="1.15"/>
<line x1="323.33" y1="219.5" x2="327.33" y2="219.5" stroke="#000" stroke-width="1.15"/>
<line x1="323.33" y1="230.1" x2="327.33" y2="230.1" stroke="#000" stroke-width="1.15"/>
<rect x="323.68" y="220.85" width="3.3" height="3.3" fill="#000"/>
<circle cx="200.5" cy="280.5" r="1.65" fill="#000"/>
<circle cx="214.37" cy="281" r="1.65" fill="#000"/>
<circle cx="228.24" cy="276" r="1.65" fill="#000"/>
<circle cx="242.11" cy="273" r="1.65" fill="#000"/>
<circle cx="255.98" cy="254.5" r="1.65" fill="#000"/>
<circle cx="269.85" cy="234.5" r="1.65" fill="#000"/>
<circle cx="325.33" cy="227.5" r="1.65" fill="#000"/>
<text x="360.9" y="169.7" font-size="11.6" font-weight="bold" text-anchor="start" textLength="7.3" lengthAdjust="spacingAndGlyphs" stroke="#000" stroke-width="0.35" >E</text>
<line x1="384.6" y1="194.5" x2="384.6" y2="279.7" stroke="#000" stroke-width="1.1"/>
<line x1="381.8" y1="195" x2="384.6" y2="195" stroke="#000" stroke-width="1.1"/>
<text x="381.6" y="197.31" font-size="6.5" font-weight="bold" text-anchor="end" textLength="13.45" lengthAdjust="spacingAndGlyphs" >2000</text>
<line x1="381.8" y1="216.03" x2="384.6" y2="216.03" stroke="#000" stroke-width="1.1"/>
<text x="381.6" y="218.33" font-size="6.5" font-weight="bold" text-anchor="end" textLength="13.45" lengthAdjust="spacingAndGlyphs" >1500</text>
<line x1="381.8" y1="237.05" x2="384.6" y2="237.05" stroke="#000" stroke-width="1.1"/>
<text x="381.6" y="239.36" font-size="6.5" font-weight="bold" text-anchor="end" textLength="13.45" lengthAdjust="spacingAndGlyphs" >1000</text>
<line x1="381.8" y1="258.08" x2="384.6" y2="258.08" stroke="#000" stroke-width="1.1"/>
<text x="381.6" y="260.38" font-size="6.5" font-weight="bold" text-anchor="end" textLength="10.08" lengthAdjust="spacingAndGlyphs" >500</text>
<line x1="381.8" y1="279.1" x2="384.6" y2="279.1" stroke="#000" stroke-width="1.1"/>
<text x="381.6" y="281.41" font-size="6.5" font-weight="bold" text-anchor="end" textLength="3.36" lengthAdjust="spacingAndGlyphs" >0</text>
<line x1="384.1" y1="279.2" x2="513.32" y2="279.2" stroke="#000" stroke-width="1.1"/>
<line x1="384.62" y1="279.2" x2="384.62" y2="281" stroke="#000" stroke-width="1.1"/>
<text x="379.96" y="288.6" font-size="5.4" font-weight="bold" text-anchor="start" textLength="6.01" lengthAdjust="spacingAndGlyphs" >10</text>
<text x="386.26" y="286.6" font-size="3.4" font-weight="bold" text-anchor="start" textLength="3.02" lengthAdjust="spacingAndGlyphs" >-7</text>
<line x1="397.44" y1="279.2" x2="397.44" y2="281" stroke="#000" stroke-width="1.1"/>
<text x="392.78" y="288.6" font-size="5.4" font-weight="bold" text-anchor="start" textLength="6.01" lengthAdjust="spacingAndGlyphs" >10</text>
<text x="399.08" y="286.6" font-size="3.4" font-weight="bold" text-anchor="start" textLength="3.02" lengthAdjust="spacingAndGlyphs" >-6</text>
<line x1="410.26" y1="279.2" x2="410.26" y2="281" stroke="#000" stroke-width="1.1"/>
<text x="405.6" y="288.6" font-size="5.4" font-weight="bold" text-anchor="start" textLength="6.01" lengthAdjust="spacingAndGlyphs" >10</text>
<text x="411.9" y="286.6" font-size="3.4" font-weight="bold" text-anchor="start" textLength="3.02" lengthAdjust="spacingAndGlyphs" >-5</text>
<line x1="423.08" y1="279.2" x2="423.08" y2="281" stroke="#000" stroke-width="1.1"/>
<text x="418.42" y="288.6" font-size="5.4" font-weight="bold" text-anchor="start" textLength="6.01" lengthAdjust="spacingAndGlyphs" >10</text>
<text x="424.72" y="286.6" font-size="3.4" font-weight="bold" text-anchor="start" textLength="3.02" lengthAdjust="spacingAndGlyphs" >-4</text>
<line x1="435.9" y1="279.2" x2="435.9" y2="281" stroke="#000" stroke-width="1.1"/>
<text x="431.24" y="288.6" font-size="5.4" font-weight="bold" text-anchor="start" textLength="6.01" lengthAdjust="spacingAndGlyphs" >10</text>
<text x="437.54" y="286.6" font-size="3.4" font-weight="bold" text-anchor="start" textLength="3.02" lengthAdjust="spacingAndGlyphs" >-3</text>
<line x1="448.72" y1="279.2" x2="448.72" y2="281" stroke="#000" stroke-width="1.1"/>
<text x="444.06" y="288.6" font-size="5.4" font-weight="bold" text-anchor="start" textLength="6.01" lengthAdjust="spacingAndGlyphs" >10</text>
<text x="450.36" y="286.6" font-size="3.4" font-weight="bold" text-anchor="start" textLength="3.02" lengthAdjust="spacingAndGlyphs" >-2</text>
<line x1="461.54" y1="279.2" x2="461.54" y2="281" stroke="#000" stroke-width="1.1"/>
<text x="456.88" y="288.6" font-size="5.4" font-weight="bold" text-anchor="start" textLength="6.01" lengthAdjust="spacingAndGlyphs" >10</text>
<text x="463.18" y="286.6" font-size="3.4" font-weight="bold" text-anchor="start" textLength="3.02" lengthAdjust="spacingAndGlyphs" >-1</text>
<line x1="474.36" y1="279.2" x2="474.36" y2="281" stroke="#000" stroke-width="1.1"/>
<text x="470.26" y="288.6" font-size="5.4" font-weight="bold" text-anchor="start" textLength="6.01" lengthAdjust="spacingAndGlyphs" >10</text>
<text x="476.57" y="286.6" font-size="3.4" font-weight="bold" text-anchor="start" textLength="1.89" lengthAdjust="spacingAndGlyphs" >0</text>
<line x1="487.18" y1="279.2" x2="487.18" y2="281" stroke="#000" stroke-width="1.1"/>
<text x="483.08" y="288.6" font-size="5.4" font-weight="bold" text-anchor="start" textLength="6.01" lengthAdjust="spacingAndGlyphs" >10</text>
<text x="489.39" y="286.6" font-size="3.4" font-weight="bold" text-anchor="start" textLength="1.89" lengthAdjust="spacingAndGlyphs" >1</text>
<line x1="500" y1="279.2" x2="500" y2="281" stroke="#000" stroke-width="1.1"/>
<text x="495.9" y="288.6" font-size="5.4" font-weight="bold" text-anchor="start" textLength="6.01" lengthAdjust="spacingAndGlyphs" >10</text>
<text x="502.21" y="286.6" font-size="3.4" font-weight="bold" text-anchor="start" textLength="1.89" lengthAdjust="spacingAndGlyphs" >2</text>
<line x1="512.82" y1="279.2" x2="512.82" y2="281" stroke="#000" stroke-width="1.1"/>
<text x="508.72" y="288.6" font-size="5.4" font-weight="bold" text-anchor="start" textLength="6.01" lengthAdjust="spacingAndGlyphs" >10</text>
<text x="515.03" y="286.6" font-size="3.4" font-weight="bold" text-anchor="start" textLength="1.89" lengthAdjust="spacingAndGlyphs" >3</text>
<text x="449.85" y="298.5" font-size="7.6" font-weight="bold" text-anchor="middle" textLength="81.5" lengthAdjust="spacingAndGlyphs" stroke="#000" stroke-width="0.22" >Concentration (ng/mL)</text>
<text transform="translate(364.9,236.2) rotate(-90)" x="0" y="0" font-size="7" font-weight="bold" text-anchor="middle" textLength="41.6" lengthAdjust="spacingAndGlyphs" stroke="#000" stroke-width="0.2">IFN-&#947;(pg/mL)</text>
<rect x="392.25" y="193.17" width="3.3" height="3.3" fill="#000"/>
<text x="404.1" y="197" font-size="5.9" font-weight="bold" text-anchor="start" textLength="47.4" lengthAdjust="spacingAndGlyphs" stroke="#000" stroke-width="0.1" >CD19xCD3 DART</text>
<circle cx="393.9" cy="205.02" r="1.75" fill="#000"/>
<text x="404.1" y="207.2" font-size="5.9" font-weight="bold" text-anchor="start" textLength="49.33" lengthAdjust="spacingAndGlyphs" stroke="#000" stroke-width="0.1" >CD19xTCR  DART</text>
<path d="M392.12 213.8H395.68L393.9 216.9Z" fill="#000"/>
<text x="404.1" y="217.3" font-size="5.9" font-weight="bold" text-anchor="start" textLength="44.5" lengthAdjust="spacingAndGlyphs" stroke="#000" stroke-width="0.1" >CD19xCD3 BiTE</text>
<path d="M393.9 224.12L395.65 226.22L393.9 228.32L392.15 226.22Z" fill="#000"/>
<text x="404.1" y="228.4" font-size="5.9" font-weight="bold" text-anchor="start" textLength="45.79" lengthAdjust="spacingAndGlyphs" stroke="#000" stroke-width="0.1" >4420xTCR DART</text>
<polyline points="397.44,279.1 398.26,279.1 399.09,279.1 399.91,279.1 400.74,279.1 401.56,279.1 402.38,279.1 403.21,279.1 404.03,279.1 404.86,279.1 405.68,279.1 406.51,279.1 407.33,279.1 408.15,279.1 408.98,279.1 409.8,279.1 410.63,279.1 411.45,279.1 412.27,279.1 413.1,279.1 413.92,279.09 414.75,279.09 415.57,279.09 416.4,279.09 417.22,279.09 418.04,279.09 418.87,279.08 419.69,279.08 420.52,279.08 421.34,279.07 422.16,279.06 422.99,279.06 423.81,279.05 424.64,279.04 425.46,279.02 426.28,279.01 427.11,278.99 427.93,278.96 428.76,278.93 429.58,278.9 430.41,278.86 431.23,278.8 432.05,278.74 432.88,278.67 433.7,278.58 434.53,278.47 435.35,278.34 436.17,278.19 437,278.01 437.82,277.79 438.65,277.53 439.47,277.22 440.3,276.86 441.12,276.44 441.94,275.96 442.77,275.39 443.59,274.75 444.42,274.03 445.24,273.22 446.06,272.32 446.89,271.35 447.71,270.31 448.54,269.22 449.36,268.08 450.19,266.93 451.01,265.78 451.83,264.65 452.66,263.57 453.48,262.54 454.31,261.59 455.13,260.71 455.95,259.92 456.78,259.21 457.6,258.58 458.43,258.04 459.25,257.56 460.07,257.16 460.9,256.81 461.72,256.51 462.55,256.26 463.37,256.05 464.2,255.88 465.02,255.73 465.84,255.6 466.67,255.5 467.49,255.41 468.32,255.34 469.14,255.28 469.96,255.24 470.79,255.19 471.61,255.16 472.44,255.13 473.26,255.11 474.09,255.09 474.91,255.07 475.73,255.06 476.56,255.05 477.38,255.04 478.21,255.03 479.03,255.03 479.85,255.02 480.68,255.02 481.5,255.02 482.33,255.01 483.15,255.01 483.97,255.01 484.8,255.01 485.62,255.01 486.45,255.01 487.27,255 488.1,255 488.92,255 489.74,255 490.57,255 491.39,255 492.22,255 493.04,255 493.86,255 494.69,255 495.51,255 496.34,255 497.16,255 497.99,255 498.81,255 499.63,255 500.46,255 501.28,255 502.11,255 502.93,255 503.75,255 504.58,255 505.4,255 506.23,255 507.05,255 507.88,255 508.7,255 509.52,255 510.35,255 511.17,255 512,255 512.82,255" fill="none" stroke="#000" stroke-width="1.1" stroke-linejoin="round"/>
<polyline points="397.44,277.24 398.26,277.23 399.09,277.22 399.91,277.21 400.74,277.2 401.56,277.19 402.38,277.18 403.21,277.16 404.03,277.14 404.86,277.12 405.68,277.1 406.51,277.07 407.33,277.04 408.15,277.01 408.98,276.97 409.8,276.93 410.63,276.88 411.45,276.83 412.27,276.77 413.1,276.7 413.92,276.63 414.75,276.54 415.57,276.45 416.4,276.34 417.22,276.22 418.04,276.09 418.87,275.93 419.69,275.76 420.52,275.57 421.34,275.36 422.16,275.12 422.99,274.86 423.81,274.56 424.64,274.23 425.46,273.87 426.28,273.46 427.11,273.01 427.93,272.52 428.76,271.98 429.58,271.38 430.41,270.73 431.23,270.01 432.05,269.24 432.88,268.41 433.7,267.51 434.53,266.54 435.35,265.52 436.17,264.43 437,263.28 437.82,262.08 438.65,260.83 439.47,259.53 440.3,258.21 441.12,256.85 441.94,255.48 442.77,254.1 443.59,252.73 444.42,251.37 445.24,250.03 446.06,248.72 446.89,247.45 447.71,246.23 448.54,245.07 449.36,243.96 450.19,242.91 451.01,241.92 451.83,241 452.66,240.14 453.48,239.35 454.31,238.62 455.13,237.94 455.95,237.33 456.78,236.77 457.6,236.25 458.43,235.79 459.25,235.37 460.07,234.99 460.9,234.65 461.72,234.34 462.55,234.07 463.37,233.82 464.2,233.6 465.02,233.4 465.84,233.22 466.67,233.07 467.49,232.92 468.32,232.8 469.14,232.69 469.96,232.59 470.79,232.5 471.61,232.42 472.44,232.35 473.26,232.29 474.09,232.23 474.91,232.18 475.73,232.14 476.56,232.1 477.38,232.07 478.21,232.04 479.03,232.01 479.85,231.99 480.68,231.97 481.5,231.95 482.33,231.93 483.15,231.91 483.97,231.9 484.8,231.89 485.62,231.88 486.45,231.87 487.27,231.86 488.1,231.86 488.92,231.85 489.74,231.84 490.57,231.84 491.39,231.83 492.22,231.83 493.04,231.83 493.86,231.82 494.69,231.82 495.51,231.82 496.34,231.82 497.16,231.81 497.99,231.81 498.81,231.81 499.63,231.81 500.46,231.81 501.28,231.81 502.11,231.81 502.93,231.81 503.75,231.81 504.58,231.8 505.4,231.8 506.23,231.8 507.05,231.8 507.88,231.8 508.7,231.8 509.52,231.8 510.35,231.8 511.17,231.8 512,231.8 512.82,231.8" fill="none" stroke="#000" stroke-width="1.1" stroke-linejoin="round"/>
<polyline points="397.44,275.53 398.26,275.52 399.09,275.51 399.91,275.5 400.74,275.49 401.56,275.47 402.38,275.45 403.21,275.44 404.03,275.41 404.86,275.39 405.68,275.36 406.51,275.33 407.33,275.3 408.15,275.26 408.98,275.22 409.8,275.17 410.63,275.11 411.45,275.05 412.27,274.98 413.1,274.9 413.92,274.82 414.75,274.72 415.57,274.61 416.4,274.48 417.22,274.34 418.04,274.18 418.87,274.01 419.69,273.81 420.52,273.59 421.34,273.34 422.16,273.07 422.99,272.76 423.81,272.42 424.64,272.05 425.46,271.63 426.28,271.16 427.11,270.65 427.93,270.09 428.76,269.48 429.58,268.81 430.41,268.07 431.23,267.28 432.05,266.42 432.88,265.5 433.7,264.51 434.53,263.46 435.35,262.34 436.17,261.17 437,259.95 437.82,258.67 438.65,257.36 439.47,256.01 440.3,254.63 441.12,253.24 441.94,251.85 442.77,250.46 443.59,249.09 444.42,247.74 445.24,246.43 446.06,245.16 446.89,243.94 447.71,242.77 448.54,241.66 449.36,240.61 450.19,239.63 451.01,238.71 451.83,237.86 452.66,237.07 453.48,236.34 454.31,235.67 455.13,235.06 455.95,234.51 456.78,234 457.6,233.54 458.43,233.12 459.25,232.75 460.07,232.41 460.9,232.11 461.72,231.84 462.55,231.59 463.37,231.37 464.2,231.18 465.02,231 465.84,230.85 466.67,230.71 467.49,230.58 468.32,230.47 469.14,230.38 469.96,230.29 470.79,230.21 471.61,230.14 472.44,230.08 473.26,230.03 474.09,229.98 474.91,229.94 475.73,229.9 476.56,229.86 477.38,229.83 478.21,229.81 479.03,229.78 479.85,229.76 480.68,229.74 481.5,229.73 482.33,229.71 483.15,229.7 483.97,229.69 484.8,229.68 485.62,229.67 486.45,229.66 487.27,229.65 488.1,229.65 488.92,229.64 489.74,229.64 490.57,229.63 491.39,229.63 492.22,229.63 493.04,229.62 493.86,229.62 494.69,229.62 495.51,229.62 496.34,229.61 497.16,229.61 497.99,229.61 498.81,229.61 499.63,229.61 500.46,229.61 501.28,229.61 502.11,229.61 502.93,229.61 503.75,229.6 504.58,229.6 505.4,229.6 506.23,229.6 507.05,229.6 507.88,229.6 508.7,229.6 509.52,229.6 510.35,229.6 511.17,229.6 512,229.6 512.82,229.6" fill="none" stroke="#000" stroke-width="1.1" stroke-linejoin="round"/>
<line x1="397.44" y1="279.1" x2="512.82" y2="279.1" stroke="#000" stroke-width="1.1"/>
<path d="M397.44 277L399.19 279.1L397.44 281.2L395.69 279.1Z" fill="#000"/>
<path d="M410.26 277L412.01 279.1L410.26 281.2L408.51 279.1Z" fill="#000"/>
<path d="M423.08 277L424.83 279.1L423.08 281.2L421.33 279.1Z" fill="#000"/>
<path d="M435.9 277L437.65 279.1L435.9 281.2L434.15 279.1Z" fill="#000"/>
<path d="M448.72 277L450.47 279.1L448.72 281.2L446.97 279.1Z" fill="#000"/>
<path d="M461.54 277L463.29 279.1L461.54 281.2L459.79 279.1Z" fill="#000"/>
<path d="M474.36 277L476.11 279.1L474.36 281.2L472.61 279.1Z" fill="#000"/>
<path d="M487.18 277L488.93 279.1L487.18 281.2L485.43 279.1Z" fill="#000"/>
<path d="M500 277L501.75 279.1L500 281.2L498.25 279.1Z" fill="#000"/>
<path d="M512.82 277L514.57 279.1L512.82 281.2L511.07 279.1Z" fill="#000"/>
<path d="M395.54 277.7H399.34L397.44 281Z" fill="#000"/>
<path d="M408.36 277.7H412.16L410.26 281Z" fill="#000"/>
<path d="M421.18 277.7H424.98L423.08 281Z" fill="#000"/>
<path d="M434 276.4H437.8L435.9 279.7Z" fill="#000"/>
<path d="M446.82 267.5H450.62L448.72 270.8Z" fill="#000"/>
<path d="M459.64 255.1H463.44L461.54 258.4Z" fill="#000"/>
<path d="M472.46 252.2H476.26L474.36 255.5Z" fill="#000"/>
<path d="M485.28 255.1H489.08L487.18 258.4Z" fill="#000"/>
<path d="M498.1 255.1H501.9L500 258.4Z" fill="#000"/>
<path d="M510.92 249.1H514.72L512.82 252.4Z" fill="#000"/>
<rect x="395.79" y="275.85" width="3.3" height="3.3" fill="#000"/>
<rect x="408.61" y="275.85" width="3.3" height="3.3" fill="#000"/>
<rect x="421.43" y="274.85" width="3.3" height="3.3" fill="#000"/>
<rect x="434.25" y="260.85" width="3.3" height="3.3" fill="#000"/>
<rect x="447.07" y="244.75" width="3.3" height="3.3" fill="#000"/>
<rect x="459.89" y="232.45" width="3.3" height="3.3" fill="#000"/>
<rect x="472.71" y="214.45" width="3.3" height="3.3" fill="#000"/>
<rect x="485.53" y="231.35" width="3.3" height="3.3" fill="#000"/>
<rect x="498.35" y="236.65" width="3.3" height="3.3" fill="#000"/>
<rect x="511.17" y="235.85" width="3.3" height="3.3" fill="#000"/>
<circle cx="397.44" cy="276.5" r="1.75" fill="#000"/>
<circle cx="410.26" cy="276.7" r="1.75" fill="#000"/>
<circle cx="423.08" cy="268.8" r="1.75" fill="#000"/>
<circle cx="435.9" cy="262.1" r="1.75" fill="#000"/>
<circle cx="448.72" cy="244" r="1.75" fill="#000"/>
<circle cx="461.54" cy="228" r="1.75" fill="#000"/>
<circle cx="474.36" cy="231" r="1.75" fill="#000"/>
<circle cx="487.18" cy="233" r="1.75" fill="#000"/>
<circle cx="500" cy="231.5" r="1.75" fill="#000"/>
<circle cx="512.82" cy="234.1" r="1.75" fill="#000"/>
</svg></body></html>
